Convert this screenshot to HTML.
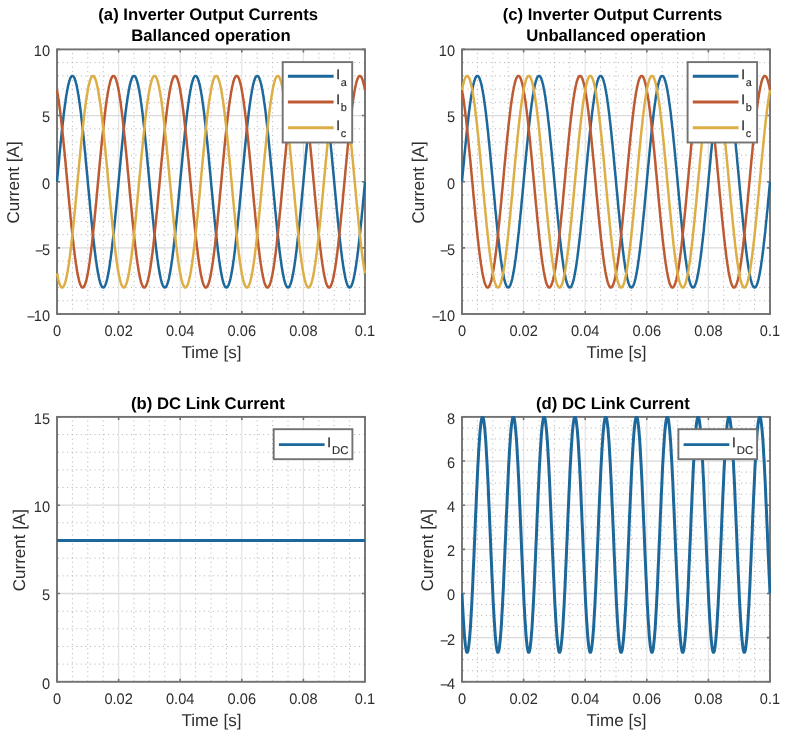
<!DOCTYPE html>
<html><head><meta charset="utf-8"><title>Inverter currents</title>
<style>html,body{margin:0;padding:0;background:#fff;} svg{display:block;font-family:"Liberation Sans",Arial,Helvetica,sans-serif;text-rendering:geometricPrecision;}</style>
</head><body>
<svg width="786" height="738" viewBox="0 0 786 738">
<rect x="0" y="0" width="786" height="738" fill="#fff"/>
<defs>
<clipPath id="cpa"><rect x="56" y="48.6" width="310" height="266.20000000000005"/></clipPath>
<clipPath id="cpc"><rect x="461" y="48.6" width="310" height="266.20000000000005"/></clipPath>
<clipPath id="cpb"><rect x="56" y="416.09999999999997" width="310" height="266.5"/></clipPath>
<clipPath id="cpd"><rect x="461" y="416.09999999999997" width="310" height="266.5"/></clipPath>
<filter id="soft" filterUnits="userSpaceOnUse" x="0" y="0" width="786" height="738"><feGaussianBlur stdDeviation="0.4"/></filter>
</defs>
<g filter="url(#soft)">
<g id="axa"><path d="M72.40 49.40V314.00M87.80 49.40V314.00M103.20 49.40V314.00M134.00 49.40V314.00M149.40 49.40V314.00M164.80 49.40V314.00M195.60 49.40V314.00M211.00 49.40V314.00M226.40 49.40V314.00M257.20 49.40V314.00M272.60 49.40V314.00M288.00 49.40V314.00M318.80 49.40V314.00M334.20 49.40V314.00M349.60 49.40V314.00" stroke="#b0b0b0" stroke-width="1.0" stroke-dasharray="1 3.56" stroke-dashoffset="1.01" fill="none"/>
<path d="M57.00 300.77H365.00M57.00 287.54H365.00M57.00 274.31H365.00M57.00 261.08H365.00M57.00 234.62H365.00M57.00 221.39H365.00M57.00 208.16H365.00M57.00 194.93H365.00M57.00 168.47H365.00M57.00 155.24H365.00M57.00 142.01H365.00M57.00 128.78H365.00M57.00 102.32H365.00M57.00 89.09H365.00M57.00 75.86H365.00M57.00 62.63H365.00" stroke="#b0b0b0" stroke-width="1.0" stroke-dasharray="1 3.56" stroke-dashoffset="3.56" fill="none"/>
<path d="M118.60 49.40V314.00M180.20 49.40V314.00M241.80 49.40V314.00M303.40 49.40V314.00" stroke="#e4e4e4" stroke-width="1.3" fill="none"/>
<path d="M57.00 247.85H365.00M57.00 181.70H365.00M57.00 115.55H365.00" stroke="#dadada" stroke-width="1.3" fill="none"/>
<path d="M57.00 314.00v-3.0M57.00 49.40v3.0M118.60 314.00v-3.0M118.60 49.40v3.0M180.20 314.00v-3.0M180.20 49.40v3.0M241.80 314.00v-3.0M241.80 49.40v3.0M303.40 314.00v-3.0M303.40 49.40v3.0M365.00 314.00v-3.0M365.00 49.40v3.0M57.00 314.00h3.0M365.00 314.00h-3.0M57.00 247.85h3.0M365.00 247.85h-3.0M57.00 181.70h3.0M365.00 181.70h-3.0M57.00 115.55h3.0M365.00 115.55h-3.0M57.00 49.40h3.0M365.00 49.40h-3.0" stroke="#727272" stroke-width="1.6" fill="none"/>
<rect x="57" y="49.4" width="308" height="264.6" fill="none" stroke="#727272" stroke-width="1.9"/>
<polyline clip-path="url(#cpa)" points="57.0,181.7 57.4,177.0 57.9,172.2 58.3,167.5 58.8,162.8 59.2,158.1 59.6,153.5 60.1,149.0 60.5,144.5 61.0,140.1 61.4,135.8 61.8,131.5 62.3,127.4 62.7,123.4 63.2,119.5 63.6,115.7 64.0,112.1 64.5,108.6 64.9,105.2 65.4,102.0 65.8,99.0 66.2,96.1 66.7,93.4 67.1,90.8 67.6,88.5 68.0,86.3 68.4,84.4 68.9,82.6 69.3,81.0 69.8,79.7 70.2,78.5 70.6,77.6 71.1,76.8 71.5,76.3 72.0,76.0 72.4,75.9 72.8,76.0 73.3,76.3 73.7,76.8 74.2,77.6 74.6,78.5 75.0,79.7 75.5,81.0 75.9,82.6 76.4,84.4 76.8,86.3 77.2,88.5 77.7,90.8 78.1,93.4 78.6,96.1 79.0,99.0 79.4,102.0 79.9,105.2 80.3,108.6 80.8,112.1 81.2,115.7 81.6,119.5 82.1,123.4 82.5,127.4 83.0,131.5 83.4,135.8 83.8,140.1 84.3,144.5 84.7,149.0 85.2,153.5 85.6,158.1 86.0,162.8 86.5,167.5 86.9,172.2 87.4,177.0 87.8,181.7 88.2,186.4 88.7,191.2 89.1,195.9 89.6,200.6 90.0,205.3 90.4,209.9 90.9,214.4 91.3,218.9 91.8,223.3 92.2,227.6 92.6,231.9 93.1,236.0 93.5,240.0 94.0,243.9 94.4,247.7 94.8,251.3 95.3,254.8 95.7,258.2 96.2,261.4 96.6,264.4 97.0,267.3 97.5,270.0 97.9,272.6 98.4,274.9 98.8,277.1 99.2,279.0 99.7,280.8 100.1,282.4 100.6,283.7 101.0,284.9 101.4,285.8 101.9,286.6 102.3,287.1 102.8,287.4 103.2,287.5 103.6,287.4 104.1,287.1 104.5,286.6 105.0,285.8 105.4,284.9 105.8,283.7 106.3,282.4 106.7,280.8 107.2,279.0 107.6,277.1 108.0,274.9 108.5,272.6 108.9,270.0 109.4,267.3 109.8,264.4 110.2,261.4 110.7,258.2 111.1,254.8 111.6,251.3 112.0,247.7 112.4,243.9 112.9,240.0 113.3,236.0 113.8,231.9 114.2,227.6 114.6,223.3 115.1,218.9 115.5,214.4 116.0,209.9 116.4,205.3 116.8,200.6 117.3,195.9 117.7,191.2 118.2,186.4 118.6,181.7 119.0,177.0 119.5,172.2 119.9,167.5 120.4,162.8 120.8,158.1 121.2,153.5 121.7,149.0 122.1,144.5 122.6,140.1 123.0,135.8 123.4,131.5 123.9,127.4 124.3,123.4 124.8,119.5 125.2,115.7 125.6,112.1 126.1,108.6 126.5,105.2 127.0,102.0 127.4,99.0 127.8,96.1 128.3,93.4 128.7,90.8 129.2,88.5 129.6,86.3 130.0,84.4 130.5,82.6 130.9,81.0 131.4,79.7 131.8,78.5 132.2,77.6 132.7,76.8 133.1,76.3 133.6,76.0 134.0,75.9 134.4,76.0 134.9,76.3 135.3,76.8 135.8,77.6 136.2,78.5 136.6,79.7 137.1,81.0 137.5,82.6 138.0,84.4 138.4,86.3 138.8,88.5 139.3,90.8 139.7,93.4 140.2,96.1 140.6,99.0 141.0,102.0 141.5,105.2 141.9,108.6 142.4,112.1 142.8,115.7 143.2,119.5 143.7,123.4 144.1,127.4 144.6,131.5 145.0,135.8 145.4,140.1 145.9,144.5 146.3,149.0 146.8,153.5 147.2,158.1 147.6,162.8 148.1,167.5 148.5,172.2 149.0,177.0 149.4,181.7 149.8,186.4 150.3,191.2 150.7,195.9 151.2,200.6 151.6,205.3 152.0,209.9 152.5,214.4 152.9,218.9 153.4,223.3 153.8,227.6 154.2,231.9 154.7,236.0 155.1,240.0 155.6,243.9 156.0,247.7 156.4,251.3 156.9,254.8 157.3,258.2 157.8,261.4 158.2,264.4 158.6,267.3 159.1,270.0 159.5,272.6 160.0,274.9 160.4,277.1 160.8,279.0 161.3,280.8 161.7,282.4 162.2,283.7 162.6,284.9 163.0,285.8 163.5,286.6 163.9,287.1 164.4,287.4 164.8,287.5 165.2,287.4 165.7,287.1 166.1,286.6 166.6,285.8 167.0,284.9 167.4,283.7 167.9,282.4 168.3,280.8 168.8,279.0 169.2,277.1 169.6,274.9 170.1,272.6 170.5,270.0 171.0,267.3 171.4,264.4 171.8,261.4 172.3,258.2 172.7,254.8 173.2,251.3 173.6,247.7 174.0,243.9 174.5,240.0 174.9,236.0 175.4,231.9 175.8,227.6 176.2,223.3 176.7,218.9 177.1,214.4 177.6,209.9 178.0,205.3 178.4,200.6 178.9,195.9 179.3,191.2 179.8,186.4 180.2,181.7 180.6,177.0 181.1,172.2 181.5,167.5 182.0,162.8 182.4,158.1 182.8,153.5 183.3,149.0 183.7,144.5 184.2,140.1 184.6,135.8 185.0,131.5 185.5,127.4 185.9,123.4 186.4,119.5 186.8,115.7 187.2,112.1 187.7,108.6 188.1,105.2 188.6,102.0 189.0,99.0 189.4,96.1 189.9,93.4 190.3,90.8 190.8,88.5 191.2,86.3 191.6,84.4 192.1,82.6 192.5,81.0 193.0,79.7 193.4,78.5 193.8,77.6 194.3,76.8 194.7,76.3 195.2,76.0 195.6,75.9 196.0,76.0 196.5,76.3 196.9,76.8 197.4,77.6 197.8,78.5 198.2,79.7 198.7,81.0 199.1,82.6 199.6,84.4 200.0,86.3 200.4,88.5 200.9,90.8 201.3,93.4 201.8,96.1 202.2,99.0 202.6,102.0 203.1,105.2 203.5,108.6 204.0,112.1 204.4,115.7 204.8,119.5 205.3,123.4 205.7,127.4 206.2,131.5 206.6,135.8 207.0,140.1 207.5,144.5 207.9,149.0 208.4,153.5 208.8,158.1 209.2,162.8 209.7,167.5 210.1,172.2 210.6,177.0 211.0,181.7 211.4,186.4 211.9,191.2 212.3,195.9 212.8,200.6 213.2,205.3 213.6,209.9 214.1,214.4 214.5,218.9 215.0,223.3 215.4,227.6 215.8,231.9 216.3,236.0 216.7,240.0 217.2,243.9 217.6,247.7 218.0,251.3 218.5,254.8 218.9,258.2 219.4,261.4 219.8,264.4 220.2,267.3 220.7,270.0 221.1,272.6 221.6,274.9 222.0,277.1 222.4,279.0 222.9,280.8 223.3,282.4 223.8,283.7 224.2,284.9 224.6,285.8 225.1,286.6 225.5,287.1 226.0,287.4 226.4,287.5 226.8,287.4 227.3,287.1 227.7,286.6 228.2,285.8 228.6,284.9 229.0,283.7 229.5,282.4 229.9,280.8 230.4,279.0 230.8,277.1 231.2,274.9 231.7,272.6 232.1,270.0 232.6,267.3 233.0,264.4 233.4,261.4 233.9,258.2 234.3,254.8 234.8,251.3 235.2,247.7 235.6,243.9 236.1,240.0 236.5,236.0 237.0,231.9 237.4,227.6 237.8,223.3 238.3,218.9 238.7,214.4 239.2,209.9 239.6,205.3 240.0,200.6 240.5,195.9 240.9,191.2 241.4,186.4 241.8,181.7 242.2,177.0 242.7,172.2 243.1,167.5 243.6,162.8 244.0,158.1 244.4,153.5 244.9,149.0 245.3,144.5 245.8,140.1 246.2,135.8 246.6,131.5 247.1,127.4 247.5,123.4 248.0,119.5 248.4,115.7 248.8,112.1 249.3,108.6 249.7,105.2 250.2,102.0 250.6,99.0 251.0,96.1 251.5,93.4 251.9,90.8 252.4,88.5 252.8,86.3 253.2,84.4 253.7,82.6 254.1,81.0 254.6,79.7 255.0,78.5 255.4,77.6 255.9,76.8 256.3,76.3 256.8,76.0 257.2,75.9 257.6,76.0 258.1,76.3 258.5,76.8 259.0,77.6 259.4,78.5 259.8,79.7 260.3,81.0 260.7,82.6 261.2,84.4 261.6,86.3 262.0,88.5 262.5,90.8 262.9,93.4 263.4,96.1 263.8,99.0 264.2,102.0 264.7,105.2 265.1,108.6 265.6,112.1 266.0,115.7 266.4,119.5 266.9,123.4 267.3,127.4 267.8,131.5 268.2,135.8 268.6,140.1 269.1,144.5 269.5,149.0 270.0,153.5 270.4,158.1 270.8,162.8 271.3,167.5 271.7,172.2 272.2,177.0 272.6,181.7 273.0,186.4 273.5,191.2 273.9,195.9 274.4,200.6 274.8,205.3 275.2,209.9 275.7,214.4 276.1,218.9 276.6,223.3 277.0,227.6 277.4,231.9 277.9,236.0 278.3,240.0 278.8,243.9 279.2,247.7 279.6,251.3 280.1,254.8 280.5,258.2 281.0,261.4 281.4,264.4 281.8,267.3 282.3,270.0 282.7,272.6 283.2,274.9 283.6,277.1 284.0,279.0 284.5,280.8 284.9,282.4 285.4,283.7 285.8,284.9 286.2,285.8 286.7,286.6 287.1,287.1 287.6,287.4 288.0,287.5 288.4,287.4 288.9,287.1 289.3,286.6 289.8,285.8 290.2,284.9 290.6,283.7 291.1,282.4 291.5,280.8 292.0,279.0 292.4,277.1 292.8,274.9 293.3,272.6 293.7,270.0 294.2,267.3 294.6,264.4 295.0,261.4 295.5,258.2 295.9,254.8 296.4,251.3 296.8,247.7 297.2,243.9 297.7,240.0 298.1,236.0 298.6,231.9 299.0,227.6 299.4,223.3 299.9,218.9 300.3,214.4 300.8,209.9 301.2,205.3 301.6,200.6 302.1,195.9 302.5,191.2 303.0,186.4 303.4,181.7 303.8,177.0 304.3,172.2 304.7,167.5 305.2,162.8 305.6,158.1 306.0,153.5 306.5,149.0 306.9,144.5 307.4,140.1 307.8,135.8 308.2,131.5 308.7,127.4 309.1,123.4 309.6,119.5 310.0,115.7 310.4,112.1 310.9,108.6 311.3,105.2 311.8,102.0 312.2,99.0 312.6,96.1 313.1,93.4 313.5,90.8 314.0,88.5 314.4,86.3 314.8,84.4 315.3,82.6 315.7,81.0 316.2,79.7 316.6,78.5 317.0,77.6 317.5,76.8 317.9,76.3 318.4,76.0 318.8,75.9 319.2,76.0 319.7,76.3 320.1,76.8 320.6,77.6 321.0,78.5 321.4,79.7 321.9,81.0 322.3,82.6 322.8,84.4 323.2,86.3 323.6,88.5 324.1,90.8 324.5,93.4 325.0,96.1 325.4,99.0 325.8,102.0 326.3,105.2 326.7,108.6 327.2,112.1 327.6,115.7 328.0,119.5 328.5,123.4 328.9,127.4 329.4,131.5 329.8,135.8 330.2,140.1 330.7,144.5 331.1,149.0 331.6,153.5 332.0,158.1 332.4,162.8 332.9,167.5 333.3,172.2 333.8,177.0 334.2,181.7 334.6,186.4 335.1,191.2 335.5,195.9 336.0,200.6 336.4,205.3 336.8,209.9 337.3,214.4 337.7,218.9 338.2,223.3 338.6,227.6 339.0,231.9 339.5,236.0 339.9,240.0 340.4,243.9 340.8,247.7 341.2,251.3 341.7,254.8 342.1,258.2 342.6,261.4 343.0,264.4 343.4,267.3 343.9,270.0 344.3,272.6 344.8,274.9 345.2,277.1 345.6,279.0 346.1,280.8 346.5,282.4 347.0,283.7 347.4,284.9 347.8,285.8 348.3,286.6 348.7,287.1 349.2,287.4 349.6,287.5 350.0,287.4 350.5,287.1 350.9,286.6 351.4,285.8 351.8,284.9 352.2,283.7 352.7,282.4 353.1,280.8 353.6,279.0 354.0,277.1 354.4,274.9 354.9,272.6 355.3,270.0 355.8,267.3 356.2,264.4 356.6,261.4 357.1,258.2 357.5,254.8 358.0,251.3 358.4,247.7 358.8,243.9 359.3,240.0 359.7,236.0 360.2,231.9 360.6,227.6 361.0,223.3 361.5,218.9 361.9,214.4 362.4,209.9 362.8,205.3 363.2,200.6 363.7,195.9 364.1,191.2 364.6,186.4 365.0,181.7" fill="none" stroke="#1f679b" stroke-width="2.5" stroke-linejoin="round"/>
<polyline clip-path="url(#cpa)" points="57.0,90.0 57.4,92.5 57.9,95.2 58.3,98.0 58.8,101.0 59.2,104.1 59.6,107.4 60.1,110.9 60.5,114.5 61.0,118.2 61.4,122.1 61.8,126.1 62.3,130.2 62.7,134.4 63.2,138.7 63.6,143.0 64.0,147.5 64.5,152.0 64.9,156.6 65.4,161.2 65.8,165.9 66.2,170.6 66.7,175.4 67.1,180.1 67.6,184.9 68.0,189.6 68.4,194.3 68.9,199.0 69.3,203.7 69.8,208.3 70.2,212.9 70.6,217.4 71.1,221.8 71.5,226.2 72.0,230.5 72.4,234.6 72.8,238.7 73.3,242.6 73.7,246.4 74.2,250.1 74.6,253.7 75.0,257.1 75.5,260.4 75.9,263.5 76.4,266.4 76.8,269.1 77.2,271.7 77.7,274.1 78.1,276.4 78.6,278.4 79.0,280.2 79.4,281.9 79.9,283.3 80.3,284.5 80.8,285.5 81.2,286.4 81.6,287.0 82.1,287.4 82.5,287.5 83.0,287.5 83.4,287.2 83.8,286.8 84.3,286.1 84.7,285.2 85.2,284.1 85.6,282.8 86.0,281.3 86.5,279.6 86.9,277.7 87.4,275.6 87.8,273.4 88.2,270.9 88.7,268.2 89.1,265.4 89.6,262.4 90.0,259.3 90.4,256.0 90.9,252.5 91.3,248.9 91.8,245.2 92.2,241.3 92.6,237.3 93.1,233.2 93.5,229.0 94.0,224.7 94.4,220.4 94.8,215.9 95.3,211.4 95.7,206.8 96.2,202.2 96.6,197.5 97.0,192.8 97.5,188.0 97.9,183.3 98.4,178.5 98.8,173.8 99.2,169.1 99.7,164.4 100.1,159.7 100.6,155.1 101.0,150.5 101.4,146.0 101.9,141.6 102.3,137.2 102.8,132.9 103.2,128.8 103.6,124.7 104.1,120.8 104.5,117.0 105.0,113.3 105.4,109.7 105.8,106.3 106.3,103.0 106.7,99.9 107.2,97.0 107.6,94.3 108.0,91.7 108.5,89.3 108.9,87.0 109.4,85.0 109.8,83.2 110.2,81.5 110.7,80.1 111.1,78.9 111.6,77.9 112.0,77.0 112.4,76.4 112.9,76.0 113.3,75.9 113.8,75.9 114.2,76.2 114.6,76.6 115.1,77.3 115.5,78.2 116.0,79.3 116.4,80.6 116.8,82.1 117.3,83.8 117.7,85.7 118.2,87.8 118.6,90.0 119.0,92.5 119.5,95.2 119.9,98.0 120.4,101.0 120.8,104.1 121.2,107.4 121.7,110.9 122.1,114.5 122.6,118.2 123.0,122.1 123.4,126.1 123.9,130.2 124.3,134.4 124.8,138.7 125.2,143.0 125.6,147.5 126.1,152.0 126.5,156.6 127.0,161.2 127.4,165.9 127.8,170.6 128.3,175.4 128.7,180.1 129.2,184.9 129.6,189.6 130.0,194.3 130.5,199.0 130.9,203.7 131.4,208.3 131.8,212.9 132.2,217.4 132.7,221.8 133.1,226.2 133.6,230.5 134.0,234.6 134.4,238.7 134.9,242.6 135.3,246.4 135.8,250.1 136.2,253.7 136.6,257.1 137.1,260.4 137.5,263.5 138.0,266.4 138.4,269.1 138.8,271.7 139.3,274.1 139.7,276.4 140.2,278.4 140.6,280.2 141.0,281.9 141.5,283.3 141.9,284.5 142.4,285.5 142.8,286.4 143.2,287.0 143.7,287.4 144.1,287.5 144.6,287.5 145.0,287.2 145.4,286.8 145.9,286.1 146.3,285.2 146.8,284.1 147.2,282.8 147.6,281.3 148.1,279.6 148.5,277.7 149.0,275.6 149.4,273.4 149.8,270.9 150.3,268.2 150.7,265.4 151.2,262.4 151.6,259.3 152.0,256.0 152.5,252.5 152.9,248.9 153.4,245.2 153.8,241.3 154.2,237.3 154.7,233.2 155.1,229.0 155.6,224.7 156.0,220.4 156.4,215.9 156.9,211.4 157.3,206.8 157.8,202.2 158.2,197.5 158.6,192.8 159.1,188.0 159.5,183.3 160.0,178.5 160.4,173.8 160.8,169.1 161.3,164.4 161.7,159.7 162.2,155.1 162.6,150.5 163.0,146.0 163.5,141.6 163.9,137.2 164.4,132.9 164.8,128.8 165.2,124.7 165.7,120.8 166.1,117.0 166.6,113.3 167.0,109.7 167.4,106.3 167.9,103.0 168.3,99.9 168.8,97.0 169.2,94.3 169.6,91.7 170.1,89.3 170.5,87.0 171.0,85.0 171.4,83.2 171.8,81.5 172.3,80.1 172.7,78.9 173.2,77.9 173.6,77.0 174.0,76.4 174.5,76.0 174.9,75.9 175.4,75.9 175.8,76.2 176.2,76.6 176.7,77.3 177.1,78.2 177.6,79.3 178.0,80.6 178.4,82.1 178.9,83.8 179.3,85.7 179.8,87.8 180.2,90.0 180.6,92.5 181.1,95.2 181.5,98.0 182.0,101.0 182.4,104.1 182.8,107.4 183.3,110.9 183.7,114.5 184.2,118.2 184.6,122.1 185.0,126.1 185.5,130.2 185.9,134.4 186.4,138.7 186.8,143.0 187.2,147.5 187.7,152.0 188.1,156.6 188.6,161.2 189.0,165.9 189.4,170.6 189.9,175.4 190.3,180.1 190.8,184.9 191.2,189.6 191.6,194.3 192.1,199.0 192.5,203.7 193.0,208.3 193.4,212.9 193.8,217.4 194.3,221.8 194.7,226.2 195.2,230.5 195.6,234.6 196.0,238.7 196.5,242.6 196.9,246.4 197.4,250.1 197.8,253.7 198.2,257.1 198.7,260.4 199.1,263.5 199.6,266.4 200.0,269.1 200.4,271.7 200.9,274.1 201.3,276.4 201.8,278.4 202.2,280.2 202.6,281.9 203.1,283.3 203.5,284.5 204.0,285.5 204.4,286.4 204.8,287.0 205.3,287.4 205.7,287.5 206.2,287.5 206.6,287.2 207.0,286.8 207.5,286.1 207.9,285.2 208.4,284.1 208.8,282.8 209.2,281.3 209.7,279.6 210.1,277.7 210.6,275.6 211.0,273.4 211.4,270.9 211.9,268.2 212.3,265.4 212.8,262.4 213.2,259.3 213.6,256.0 214.1,252.5 214.5,248.9 215.0,245.2 215.4,241.3 215.8,237.3 216.3,233.2 216.7,229.0 217.2,224.7 217.6,220.4 218.0,215.9 218.5,211.4 218.9,206.8 219.4,202.2 219.8,197.5 220.2,192.8 220.7,188.0 221.1,183.3 221.6,178.5 222.0,173.8 222.4,169.1 222.9,164.4 223.3,159.7 223.8,155.1 224.2,150.5 224.6,146.0 225.1,141.6 225.5,137.2 226.0,132.9 226.4,128.8 226.8,124.7 227.3,120.8 227.7,117.0 228.2,113.3 228.6,109.7 229.0,106.3 229.5,103.0 229.9,99.9 230.4,97.0 230.8,94.3 231.2,91.7 231.7,89.3 232.1,87.0 232.6,85.0 233.0,83.2 233.4,81.5 233.9,80.1 234.3,78.9 234.8,77.9 235.2,77.0 235.6,76.4 236.1,76.0 236.5,75.9 237.0,75.9 237.4,76.2 237.8,76.6 238.3,77.3 238.7,78.2 239.2,79.3 239.6,80.6 240.0,82.1 240.5,83.8 240.9,85.7 241.4,87.8 241.8,90.0 242.2,92.5 242.7,95.2 243.1,98.0 243.6,101.0 244.0,104.1 244.4,107.4 244.9,110.9 245.3,114.5 245.8,118.2 246.2,122.1 246.6,126.1 247.1,130.2 247.5,134.4 248.0,138.7 248.4,143.0 248.8,147.5 249.3,152.0 249.7,156.6 250.2,161.2 250.6,165.9 251.0,170.6 251.5,175.4 251.9,180.1 252.4,184.9 252.8,189.6 253.2,194.3 253.7,199.0 254.1,203.7 254.6,208.3 255.0,212.9 255.4,217.4 255.9,221.8 256.3,226.2 256.8,230.5 257.2,234.6 257.6,238.7 258.1,242.6 258.5,246.4 259.0,250.1 259.4,253.7 259.8,257.1 260.3,260.4 260.7,263.5 261.2,266.4 261.6,269.1 262.0,271.7 262.5,274.1 262.9,276.4 263.4,278.4 263.8,280.2 264.2,281.9 264.7,283.3 265.1,284.5 265.6,285.5 266.0,286.4 266.4,287.0 266.9,287.4 267.3,287.5 267.8,287.5 268.2,287.2 268.6,286.8 269.1,286.1 269.5,285.2 270.0,284.1 270.4,282.8 270.8,281.3 271.3,279.6 271.7,277.7 272.2,275.6 272.6,273.4 273.0,270.9 273.5,268.2 273.9,265.4 274.4,262.4 274.8,259.3 275.2,256.0 275.7,252.5 276.1,248.9 276.6,245.2 277.0,241.3 277.4,237.3 277.9,233.2 278.3,229.0 278.8,224.7 279.2,220.4 279.6,215.9 280.1,211.4 280.5,206.8 281.0,202.2 281.4,197.5 281.8,192.8 282.3,188.0 282.7,183.3 283.2,178.5 283.6,173.8 284.0,169.1 284.5,164.4 284.9,159.7 285.4,155.1 285.8,150.5 286.2,146.0 286.7,141.6 287.1,137.2 287.6,132.9 288.0,128.8 288.4,124.7 288.9,120.8 289.3,117.0 289.8,113.3 290.2,109.7 290.6,106.3 291.1,103.0 291.5,99.9 292.0,97.0 292.4,94.3 292.8,91.7 293.3,89.3 293.7,87.0 294.2,85.0 294.6,83.2 295.0,81.5 295.5,80.1 295.9,78.9 296.4,77.9 296.8,77.0 297.2,76.4 297.7,76.0 298.1,75.9 298.6,75.9 299.0,76.2 299.4,76.6 299.9,77.3 300.3,78.2 300.8,79.3 301.2,80.6 301.6,82.1 302.1,83.8 302.5,85.7 303.0,87.8 303.4,90.0 303.8,92.5 304.3,95.2 304.7,98.0 305.2,101.0 305.6,104.1 306.0,107.4 306.5,110.9 306.9,114.5 307.4,118.2 307.8,122.1 308.2,126.1 308.7,130.2 309.1,134.4 309.6,138.7 310.0,143.0 310.4,147.5 310.9,152.0 311.3,156.6 311.8,161.2 312.2,165.9 312.6,170.6 313.1,175.4 313.5,180.1 314.0,184.9 314.4,189.6 314.8,194.3 315.3,199.0 315.7,203.7 316.2,208.3 316.6,212.9 317.0,217.4 317.5,221.8 317.9,226.2 318.4,230.5 318.8,234.6 319.2,238.7 319.7,242.6 320.1,246.4 320.6,250.1 321.0,253.7 321.4,257.1 321.9,260.4 322.3,263.5 322.8,266.4 323.2,269.1 323.6,271.7 324.1,274.1 324.5,276.4 325.0,278.4 325.4,280.2 325.8,281.9 326.3,283.3 326.7,284.5 327.2,285.5 327.6,286.4 328.0,287.0 328.5,287.4 328.9,287.5 329.4,287.5 329.8,287.2 330.2,286.8 330.7,286.1 331.1,285.2 331.6,284.1 332.0,282.8 332.4,281.3 332.9,279.6 333.3,277.7 333.8,275.6 334.2,273.4 334.6,270.9 335.1,268.2 335.5,265.4 336.0,262.4 336.4,259.3 336.8,256.0 337.3,252.5 337.7,248.9 338.2,245.2 338.6,241.3 339.0,237.3 339.5,233.2 339.9,229.0 340.4,224.7 340.8,220.4 341.2,215.9 341.7,211.4 342.1,206.8 342.6,202.2 343.0,197.5 343.4,192.8 343.9,188.0 344.3,183.3 344.8,178.5 345.2,173.8 345.6,169.1 346.1,164.4 346.5,159.7 347.0,155.1 347.4,150.5 347.8,146.0 348.3,141.6 348.7,137.2 349.2,132.9 349.6,128.8 350.0,124.7 350.5,120.8 350.9,117.0 351.4,113.3 351.8,109.7 352.2,106.3 352.7,103.0 353.1,99.9 353.6,97.0 354.0,94.3 354.4,91.7 354.9,89.3 355.3,87.0 355.8,85.0 356.2,83.2 356.6,81.5 357.1,80.1 357.5,78.9 358.0,77.9 358.4,77.0 358.8,76.4 359.3,76.0 359.7,75.9 360.2,75.9 360.6,76.2 361.0,76.6 361.5,77.3 361.9,78.2 362.4,79.3 362.8,80.6 363.2,82.1 363.7,83.8 364.1,85.7 364.6,87.8 365.0,90.0" fill="none" stroke="#bd5a32" stroke-width="2.5" stroke-linejoin="round"/>
<polyline clip-path="url(#cpa)" points="57.0,273.4 57.4,275.6 57.9,277.7 58.3,279.6 58.8,281.3 59.2,282.8 59.6,284.1 60.1,285.2 60.5,286.1 61.0,286.8 61.4,287.2 61.8,287.5 62.3,287.5 62.7,287.4 63.2,287.0 63.6,286.4 64.0,285.5 64.5,284.5 64.9,283.3 65.4,281.9 65.8,280.2 66.2,278.4 66.7,276.4 67.1,274.1 67.6,271.7 68.0,269.1 68.4,266.4 68.9,263.5 69.3,260.4 69.8,257.1 70.2,253.7 70.6,250.1 71.1,246.4 71.5,242.6 72.0,238.7 72.4,234.6 72.8,230.5 73.3,226.2 73.7,221.8 74.2,217.4 74.6,212.9 75.0,208.3 75.5,203.7 75.9,199.0 76.4,194.3 76.8,189.6 77.2,184.9 77.7,180.1 78.1,175.4 78.6,170.6 79.0,165.9 79.4,161.2 79.9,156.6 80.3,152.0 80.8,147.5 81.2,143.0 81.6,138.7 82.1,134.4 82.5,130.2 83.0,126.1 83.4,122.1 83.8,118.2 84.3,114.5 84.7,110.9 85.2,107.4 85.6,104.1 86.0,101.0 86.5,98.0 86.9,95.2 87.4,92.5 87.8,90.0 88.2,87.8 88.7,85.7 89.1,83.8 89.6,82.1 90.0,80.6 90.4,79.3 90.9,78.2 91.3,77.3 91.8,76.6 92.2,76.2 92.6,75.9 93.1,75.9 93.5,76.0 94.0,76.4 94.4,77.0 94.8,77.9 95.3,78.9 95.7,80.1 96.2,81.5 96.6,83.2 97.0,85.0 97.5,87.0 97.9,89.3 98.4,91.7 98.8,94.3 99.2,97.0 99.7,99.9 100.1,103.0 100.6,106.3 101.0,109.7 101.4,113.3 101.9,117.0 102.3,120.8 102.8,124.7 103.2,128.8 103.6,132.9 104.1,137.2 104.5,141.6 105.0,146.0 105.4,150.5 105.8,155.1 106.3,159.7 106.7,164.4 107.2,169.1 107.6,173.8 108.0,178.5 108.5,183.3 108.9,188.0 109.4,192.8 109.8,197.5 110.2,202.2 110.7,206.8 111.1,211.4 111.6,215.9 112.0,220.4 112.4,224.7 112.9,229.0 113.3,233.2 113.8,237.3 114.2,241.3 114.6,245.2 115.1,248.9 115.5,252.5 116.0,256.0 116.4,259.3 116.8,262.4 117.3,265.4 117.7,268.2 118.2,270.9 118.6,273.4 119.0,275.6 119.5,277.7 119.9,279.6 120.4,281.3 120.8,282.8 121.2,284.1 121.7,285.2 122.1,286.1 122.6,286.8 123.0,287.2 123.4,287.5 123.9,287.5 124.3,287.4 124.8,287.0 125.2,286.4 125.6,285.5 126.1,284.5 126.5,283.3 127.0,281.9 127.4,280.2 127.8,278.4 128.3,276.4 128.7,274.1 129.2,271.7 129.6,269.1 130.0,266.4 130.5,263.5 130.9,260.4 131.4,257.1 131.8,253.7 132.2,250.1 132.7,246.4 133.1,242.6 133.6,238.7 134.0,234.6 134.4,230.5 134.9,226.2 135.3,221.8 135.8,217.4 136.2,212.9 136.6,208.3 137.1,203.7 137.5,199.0 138.0,194.3 138.4,189.6 138.8,184.9 139.3,180.1 139.7,175.4 140.2,170.6 140.6,165.9 141.0,161.2 141.5,156.6 141.9,152.0 142.4,147.5 142.8,143.0 143.2,138.7 143.7,134.4 144.1,130.2 144.6,126.1 145.0,122.1 145.4,118.2 145.9,114.5 146.3,110.9 146.8,107.4 147.2,104.1 147.6,101.0 148.1,98.0 148.5,95.2 149.0,92.5 149.4,90.0 149.8,87.8 150.3,85.7 150.7,83.8 151.2,82.1 151.6,80.6 152.0,79.3 152.5,78.2 152.9,77.3 153.4,76.6 153.8,76.2 154.2,75.9 154.7,75.9 155.1,76.0 155.6,76.4 156.0,77.0 156.4,77.9 156.9,78.9 157.3,80.1 157.8,81.5 158.2,83.2 158.6,85.0 159.1,87.0 159.5,89.3 160.0,91.7 160.4,94.3 160.8,97.0 161.3,99.9 161.7,103.0 162.2,106.3 162.6,109.7 163.0,113.3 163.5,117.0 163.9,120.8 164.4,124.7 164.8,128.8 165.2,132.9 165.7,137.2 166.1,141.6 166.6,146.0 167.0,150.5 167.4,155.1 167.9,159.7 168.3,164.4 168.8,169.1 169.2,173.8 169.6,178.5 170.1,183.3 170.5,188.0 171.0,192.8 171.4,197.5 171.8,202.2 172.3,206.8 172.7,211.4 173.2,215.9 173.6,220.4 174.0,224.7 174.5,229.0 174.9,233.2 175.4,237.3 175.8,241.3 176.2,245.2 176.7,248.9 177.1,252.5 177.6,256.0 178.0,259.3 178.4,262.4 178.9,265.4 179.3,268.2 179.8,270.9 180.2,273.4 180.6,275.6 181.1,277.7 181.5,279.6 182.0,281.3 182.4,282.8 182.8,284.1 183.3,285.2 183.7,286.1 184.2,286.8 184.6,287.2 185.0,287.5 185.5,287.5 185.9,287.4 186.4,287.0 186.8,286.4 187.2,285.5 187.7,284.5 188.1,283.3 188.6,281.9 189.0,280.2 189.4,278.4 189.9,276.4 190.3,274.1 190.8,271.7 191.2,269.1 191.6,266.4 192.1,263.5 192.5,260.4 193.0,257.1 193.4,253.7 193.8,250.1 194.3,246.4 194.7,242.6 195.2,238.7 195.6,234.6 196.0,230.5 196.5,226.2 196.9,221.8 197.4,217.4 197.8,212.9 198.2,208.3 198.7,203.7 199.1,199.0 199.6,194.3 200.0,189.6 200.4,184.9 200.9,180.1 201.3,175.4 201.8,170.6 202.2,165.9 202.6,161.2 203.1,156.6 203.5,152.0 204.0,147.5 204.4,143.0 204.8,138.7 205.3,134.4 205.7,130.2 206.2,126.1 206.6,122.1 207.0,118.2 207.5,114.5 207.9,110.9 208.4,107.4 208.8,104.1 209.2,101.0 209.7,98.0 210.1,95.2 210.6,92.5 211.0,90.0 211.4,87.8 211.9,85.7 212.3,83.8 212.8,82.1 213.2,80.6 213.6,79.3 214.1,78.2 214.5,77.3 215.0,76.6 215.4,76.2 215.8,75.9 216.3,75.9 216.7,76.0 217.2,76.4 217.6,77.0 218.0,77.9 218.5,78.9 218.9,80.1 219.4,81.5 219.8,83.2 220.2,85.0 220.7,87.0 221.1,89.3 221.6,91.7 222.0,94.3 222.4,97.0 222.9,99.9 223.3,103.0 223.8,106.3 224.2,109.7 224.6,113.3 225.1,117.0 225.5,120.8 226.0,124.7 226.4,128.8 226.8,132.9 227.3,137.2 227.7,141.6 228.2,146.0 228.6,150.5 229.0,155.1 229.5,159.7 229.9,164.4 230.4,169.1 230.8,173.8 231.2,178.5 231.7,183.3 232.1,188.0 232.6,192.8 233.0,197.5 233.4,202.2 233.9,206.8 234.3,211.4 234.8,215.9 235.2,220.4 235.6,224.7 236.1,229.0 236.5,233.2 237.0,237.3 237.4,241.3 237.8,245.2 238.3,248.9 238.7,252.5 239.2,256.0 239.6,259.3 240.0,262.4 240.5,265.4 240.9,268.2 241.4,270.9 241.8,273.4 242.2,275.6 242.7,277.7 243.1,279.6 243.6,281.3 244.0,282.8 244.4,284.1 244.9,285.2 245.3,286.1 245.8,286.8 246.2,287.2 246.6,287.5 247.1,287.5 247.5,287.4 248.0,287.0 248.4,286.4 248.8,285.5 249.3,284.5 249.7,283.3 250.2,281.9 250.6,280.2 251.0,278.4 251.5,276.4 251.9,274.1 252.4,271.7 252.8,269.1 253.2,266.4 253.7,263.5 254.1,260.4 254.6,257.1 255.0,253.7 255.4,250.1 255.9,246.4 256.3,242.6 256.8,238.7 257.2,234.6 257.6,230.5 258.1,226.2 258.5,221.8 259.0,217.4 259.4,212.9 259.8,208.3 260.3,203.7 260.7,199.0 261.2,194.3 261.6,189.6 262.0,184.9 262.5,180.1 262.9,175.4 263.4,170.6 263.8,165.9 264.2,161.2 264.7,156.6 265.1,152.0 265.6,147.5 266.0,143.0 266.4,138.7 266.9,134.4 267.3,130.2 267.8,126.1 268.2,122.1 268.6,118.2 269.1,114.5 269.5,110.9 270.0,107.4 270.4,104.1 270.8,101.0 271.3,98.0 271.7,95.2 272.2,92.5 272.6,90.0 273.0,87.8 273.5,85.7 273.9,83.8 274.4,82.1 274.8,80.6 275.2,79.3 275.7,78.2 276.1,77.3 276.6,76.6 277.0,76.2 277.4,75.9 277.9,75.9 278.3,76.0 278.8,76.4 279.2,77.0 279.6,77.9 280.1,78.9 280.5,80.1 281.0,81.5 281.4,83.2 281.8,85.0 282.3,87.0 282.7,89.3 283.2,91.7 283.6,94.3 284.0,97.0 284.5,99.9 284.9,103.0 285.4,106.3 285.8,109.7 286.2,113.3 286.7,117.0 287.1,120.8 287.6,124.7 288.0,128.8 288.4,132.9 288.9,137.2 289.3,141.6 289.8,146.0 290.2,150.5 290.6,155.1 291.1,159.7 291.5,164.4 292.0,169.1 292.4,173.8 292.8,178.5 293.3,183.3 293.7,188.0 294.2,192.8 294.6,197.5 295.0,202.2 295.5,206.8 295.9,211.4 296.4,215.9 296.8,220.4 297.2,224.7 297.7,229.0 298.1,233.2 298.6,237.3 299.0,241.3 299.4,245.2 299.9,248.9 300.3,252.5 300.8,256.0 301.2,259.3 301.6,262.4 302.1,265.4 302.5,268.2 303.0,270.9 303.4,273.4 303.8,275.6 304.3,277.7 304.7,279.6 305.2,281.3 305.6,282.8 306.0,284.1 306.5,285.2 306.9,286.1 307.4,286.8 307.8,287.2 308.2,287.5 308.7,287.5 309.1,287.4 309.6,287.0 310.0,286.4 310.4,285.5 310.9,284.5 311.3,283.3 311.8,281.9 312.2,280.2 312.6,278.4 313.1,276.4 313.5,274.1 314.0,271.7 314.4,269.1 314.8,266.4 315.3,263.5 315.7,260.4 316.2,257.1 316.6,253.7 317.0,250.1 317.5,246.4 317.9,242.6 318.4,238.7 318.8,234.6 319.2,230.5 319.7,226.2 320.1,221.8 320.6,217.4 321.0,212.9 321.4,208.3 321.9,203.7 322.3,199.0 322.8,194.3 323.2,189.6 323.6,184.9 324.1,180.1 324.5,175.4 325.0,170.6 325.4,165.9 325.8,161.2 326.3,156.6 326.7,152.0 327.2,147.5 327.6,143.0 328.0,138.7 328.5,134.4 328.9,130.2 329.4,126.1 329.8,122.1 330.2,118.2 330.7,114.5 331.1,110.9 331.6,107.4 332.0,104.1 332.4,101.0 332.9,98.0 333.3,95.2 333.8,92.5 334.2,90.0 334.6,87.8 335.1,85.7 335.5,83.8 336.0,82.1 336.4,80.6 336.8,79.3 337.3,78.2 337.7,77.3 338.2,76.6 338.6,76.2 339.0,75.9 339.5,75.9 339.9,76.0 340.4,76.4 340.8,77.0 341.2,77.9 341.7,78.9 342.1,80.1 342.6,81.5 343.0,83.2 343.4,85.0 343.9,87.0 344.3,89.3 344.8,91.7 345.2,94.3 345.6,97.0 346.1,99.9 346.5,103.0 347.0,106.3 347.4,109.7 347.8,113.3 348.3,117.0 348.7,120.8 349.2,124.7 349.6,128.8 350.0,132.9 350.5,137.2 350.9,141.6 351.4,146.0 351.8,150.5 352.2,155.1 352.7,159.7 353.1,164.4 353.6,169.1 354.0,173.8 354.4,178.5 354.9,183.3 355.3,188.0 355.8,192.8 356.2,197.5 356.6,202.2 357.1,206.8 357.5,211.4 358.0,215.9 358.4,220.4 358.8,224.7 359.3,229.0 359.7,233.2 360.2,237.3 360.6,241.3 361.0,245.2 361.5,248.9 361.9,252.5 362.4,256.0 362.8,259.3 363.2,262.4 363.7,265.4 364.1,268.2 364.6,270.9 365.0,273.4" fill="none" stroke="#dcae45" stroke-width="2.5" stroke-linejoin="round"/>
<text transform="translate(57.00,335.80) scale(1,1.05)" text-anchor="middle" font-size="14.6" fill="#2e2e2e">0</text>
<text transform="translate(118.60,335.80) scale(1,1.05)" text-anchor="middle" font-size="14.6" fill="#2e2e2e">0.02</text>
<text transform="translate(180.20,335.80) scale(1,1.05)" text-anchor="middle" font-size="14.6" fill="#2e2e2e">0.04</text>
<text transform="translate(241.80,335.80) scale(1,1.05)" text-anchor="middle" font-size="14.6" fill="#2e2e2e">0.06</text>
<text transform="translate(303.40,335.80) scale(1,1.05)" text-anchor="middle" font-size="14.6" fill="#2e2e2e">0.08</text>
<text transform="translate(365.00,335.80) scale(1,1.05)" text-anchor="middle" font-size="14.6" fill="#2e2e2e">0.1</text>
<text transform="translate(50.10,320.90) scale(1,1.05)" text-anchor="end" font-size="14.6" fill="#2e2e2e"><tspan dy="1.2">−</tspan><tspan dx="-1.5" dy="-1.2">10</tspan></text>
<text transform="translate(50.10,254.75) scale(1,1.05)" text-anchor="end" font-size="14.6" fill="#2e2e2e"><tspan dy="1.2">−</tspan><tspan dx="-1.5" dy="-1.2">5</tspan></text>
<text transform="translate(50.10,188.60) scale(1,1.05)" text-anchor="end" font-size="14.6" fill="#2e2e2e">0</text>
<text transform="translate(50.10,122.45) scale(1,1.05)" text-anchor="end" font-size="14.6" fill="#2e2e2e">5</text>
<text transform="translate(50.10,56.30) scale(1,1.05)" text-anchor="end" font-size="14.6" fill="#2e2e2e">10</text>
<text x="211.50" y="358.20" text-anchor="middle" font-size="17.0" fill="#2e2e2e">Time [s]</text>
<text transform="translate(19.00,182.50) rotate(-90)" text-anchor="middle" font-size="17.0" fill="#2e2e2e">Current [A]</text>
<text x="208.20" y="19.90" text-anchor="middle" font-size="16.7" font-weight="bold" fill="#000">(a) Inverter Output Currents</text>
<text x="211.00" y="41.40" text-anchor="middle" font-size="16.7" font-weight="bold" fill="#000">Ballanced operation</text>
<rect x="282.7" y="62.1" width="69.50" height="80.40" fill="#fff" stroke="#727272" stroke-width="1.9"/>
<path d="M287.90 76.30H333.60" stroke="#1f679b" stroke-width="2.9"/>
<text x="336.30" y="78.60" font-size="13.5" fill="#2e2e2e" stroke="#2e2e2e" stroke-width="0.35">I<tspan dx="0.7" dy="7.1" font-size="10.9" stroke-width="0.15">a</tspan></text>
<path d="M287.90 102.00H333.60" stroke="#bd5a32" stroke-width="2.9"/>
<text x="336.30" y="104.30" font-size="13.5" fill="#2e2e2e" stroke="#2e2e2e" stroke-width="0.35">I<tspan dx="0.7" dy="7.1" font-size="10.9" stroke-width="0.15">b</tspan></text>
<path d="M287.90 127.70H333.60" stroke="#dcae45" stroke-width="2.9"/>
<text x="336.30" y="130.00" font-size="13.5" fill="#2e2e2e" stroke="#2e2e2e" stroke-width="0.35">I<tspan dx="0.7" dy="7.1" font-size="10.9" stroke-width="0.15">c</tspan></text></g>
<g id="axc"><path d="M477.40 49.40V314.00M492.80 49.40V314.00M508.20 49.40V314.00M539.00 49.40V314.00M554.40 49.40V314.00M569.80 49.40V314.00M600.60 49.40V314.00M616.00 49.40V314.00M631.40 49.40V314.00M662.20 49.40V314.00M677.60 49.40V314.00M693.00 49.40V314.00M723.80 49.40V314.00M739.20 49.40V314.00M754.60 49.40V314.00" stroke="#b0b0b0" stroke-width="1.0" stroke-dasharray="1 3.56" stroke-dashoffset="1.01" fill="none"/>
<path d="M462.00 300.77H770.00M462.00 287.54H770.00M462.00 274.31H770.00M462.00 261.08H770.00M462.00 234.62H770.00M462.00 221.39H770.00M462.00 208.16H770.00M462.00 194.93H770.00M462.00 168.47H770.00M462.00 155.24H770.00M462.00 142.01H770.00M462.00 128.78H770.00M462.00 102.32H770.00M462.00 89.09H770.00M462.00 75.86H770.00M462.00 62.63H770.00" stroke="#b0b0b0" stroke-width="1.0" stroke-dasharray="1 3.56" stroke-dashoffset="3.56" fill="none"/>
<path d="M523.60 49.40V314.00M585.20 49.40V314.00M646.80 49.40V314.00M708.40 49.40V314.00" stroke="#e4e4e4" stroke-width="1.3" fill="none"/>
<path d="M462.00 247.85H770.00M462.00 181.70H770.00M462.00 115.55H770.00" stroke="#dadada" stroke-width="1.3" fill="none"/>
<path d="M462.00 314.00v-3.0M462.00 49.40v3.0M523.60 314.00v-3.0M523.60 49.40v3.0M585.20 314.00v-3.0M585.20 49.40v3.0M646.80 314.00v-3.0M646.80 49.40v3.0M708.40 314.00v-3.0M708.40 49.40v3.0M770.00 314.00v-3.0M770.00 49.40v3.0M462.00 314.00h3.0M770.00 314.00h-3.0M462.00 247.85h3.0M770.00 247.85h-3.0M462.00 181.70h3.0M770.00 181.70h-3.0M462.00 115.55h3.0M770.00 115.55h-3.0M462.00 49.40h3.0M770.00 49.40h-3.0" stroke="#727272" stroke-width="1.6" fill="none"/>
<rect x="462" y="49.4" width="308" height="264.6" fill="none" stroke="#727272" stroke-width="1.9"/>
<polyline clip-path="url(#cpc)" points="462.0,181.7 462.4,177.0 462.9,172.2 463.3,167.5 463.8,162.8 464.2,158.1 464.6,153.5 465.1,149.0 465.5,144.5 466.0,140.1 466.4,135.8 466.8,131.5 467.3,127.4 467.7,123.4 468.2,119.5 468.6,115.7 469.0,112.1 469.5,108.6 469.9,105.2 470.4,102.0 470.8,99.0 471.2,96.1 471.7,93.4 472.1,90.8 472.6,88.5 473.0,86.3 473.4,84.4 473.9,82.6 474.3,81.0 474.8,79.7 475.2,78.5 475.6,77.6 476.1,76.8 476.5,76.3 477.0,76.0 477.4,75.9 477.8,76.0 478.3,76.3 478.7,76.8 479.2,77.6 479.6,78.5 480.0,79.7 480.5,81.0 480.9,82.6 481.4,84.4 481.8,86.3 482.2,88.5 482.7,90.8 483.1,93.4 483.6,96.1 484.0,99.0 484.4,102.0 484.9,105.2 485.3,108.6 485.8,112.1 486.2,115.7 486.6,119.5 487.1,123.4 487.5,127.4 488.0,131.5 488.4,135.8 488.8,140.1 489.3,144.5 489.7,149.0 490.2,153.5 490.6,158.1 491.0,162.8 491.5,167.5 491.9,172.2 492.4,177.0 492.8,181.7 493.2,186.4 493.7,191.2 494.1,195.9 494.6,200.6 495.0,205.3 495.4,209.9 495.9,214.4 496.3,218.9 496.8,223.3 497.2,227.6 497.6,231.9 498.1,236.0 498.5,240.0 499.0,243.9 499.4,247.7 499.8,251.3 500.3,254.8 500.7,258.2 501.2,261.4 501.6,264.4 502.0,267.3 502.5,270.0 502.9,272.6 503.4,274.9 503.8,277.1 504.2,279.0 504.7,280.8 505.1,282.4 505.6,283.7 506.0,284.9 506.4,285.8 506.9,286.6 507.3,287.1 507.8,287.4 508.2,287.5 508.6,287.4 509.1,287.1 509.5,286.6 510.0,285.8 510.4,284.9 510.8,283.7 511.3,282.4 511.7,280.8 512.2,279.0 512.6,277.1 513.0,274.9 513.5,272.6 513.9,270.0 514.4,267.3 514.8,264.4 515.2,261.4 515.7,258.2 516.1,254.8 516.6,251.3 517.0,247.7 517.4,243.9 517.9,240.0 518.3,236.0 518.8,231.9 519.2,227.6 519.6,223.3 520.1,218.9 520.5,214.4 521.0,209.9 521.4,205.3 521.8,200.6 522.3,195.9 522.7,191.2 523.2,186.4 523.6,181.7 524.0,177.0 524.5,172.2 524.9,167.5 525.4,162.8 525.8,158.1 526.2,153.5 526.7,149.0 527.1,144.5 527.6,140.1 528.0,135.8 528.4,131.5 528.9,127.4 529.3,123.4 529.8,119.5 530.2,115.7 530.6,112.1 531.1,108.6 531.5,105.2 532.0,102.0 532.4,99.0 532.8,96.1 533.3,93.4 533.7,90.8 534.2,88.5 534.6,86.3 535.0,84.4 535.5,82.6 535.9,81.0 536.4,79.7 536.8,78.5 537.2,77.6 537.7,76.8 538.1,76.3 538.6,76.0 539.0,75.9 539.4,76.0 539.9,76.3 540.3,76.8 540.8,77.6 541.2,78.5 541.6,79.7 542.1,81.0 542.5,82.6 543.0,84.4 543.4,86.3 543.8,88.5 544.3,90.8 544.7,93.4 545.2,96.1 545.6,99.0 546.0,102.0 546.5,105.2 546.9,108.6 547.4,112.1 547.8,115.7 548.2,119.5 548.7,123.4 549.1,127.4 549.6,131.5 550.0,135.8 550.4,140.1 550.9,144.5 551.3,149.0 551.8,153.5 552.2,158.1 552.6,162.8 553.1,167.5 553.5,172.2 554.0,177.0 554.4,181.7 554.8,186.4 555.3,191.2 555.7,195.9 556.2,200.6 556.6,205.3 557.0,209.9 557.5,214.4 557.9,218.9 558.4,223.3 558.8,227.6 559.2,231.9 559.7,236.0 560.1,240.0 560.6,243.9 561.0,247.7 561.4,251.3 561.9,254.8 562.3,258.2 562.8,261.4 563.2,264.4 563.6,267.3 564.1,270.0 564.5,272.6 565.0,274.9 565.4,277.1 565.8,279.0 566.3,280.8 566.7,282.4 567.2,283.7 567.6,284.9 568.0,285.8 568.5,286.6 568.9,287.1 569.4,287.4 569.8,287.5 570.2,287.4 570.7,287.1 571.1,286.6 571.6,285.8 572.0,284.9 572.4,283.7 572.9,282.4 573.3,280.8 573.8,279.0 574.2,277.1 574.6,274.9 575.1,272.6 575.5,270.0 576.0,267.3 576.4,264.4 576.8,261.4 577.3,258.2 577.7,254.8 578.2,251.3 578.6,247.7 579.0,243.9 579.5,240.0 579.9,236.0 580.4,231.9 580.8,227.6 581.2,223.3 581.7,218.9 582.1,214.4 582.6,209.9 583.0,205.3 583.4,200.6 583.9,195.9 584.3,191.2 584.8,186.4 585.2,181.7 585.6,177.0 586.1,172.2 586.5,167.5 587.0,162.8 587.4,158.1 587.8,153.5 588.3,149.0 588.7,144.5 589.2,140.1 589.6,135.8 590.0,131.5 590.5,127.4 590.9,123.4 591.4,119.5 591.8,115.7 592.2,112.1 592.7,108.6 593.1,105.2 593.6,102.0 594.0,99.0 594.4,96.1 594.9,93.4 595.3,90.8 595.8,88.5 596.2,86.3 596.6,84.4 597.1,82.6 597.5,81.0 598.0,79.7 598.4,78.5 598.8,77.6 599.3,76.8 599.7,76.3 600.2,76.0 600.6,75.9 601.0,76.0 601.5,76.3 601.9,76.8 602.4,77.6 602.8,78.5 603.2,79.7 603.7,81.0 604.1,82.6 604.6,84.4 605.0,86.3 605.4,88.5 605.9,90.8 606.3,93.4 606.8,96.1 607.2,99.0 607.6,102.0 608.1,105.2 608.5,108.6 609.0,112.1 609.4,115.7 609.8,119.5 610.3,123.4 610.7,127.4 611.2,131.5 611.6,135.8 612.0,140.1 612.5,144.5 612.9,149.0 613.4,153.5 613.8,158.1 614.2,162.8 614.7,167.5 615.1,172.2 615.6,177.0 616.0,181.7 616.4,186.4 616.9,191.2 617.3,195.9 617.8,200.6 618.2,205.3 618.6,209.9 619.1,214.4 619.5,218.9 620.0,223.3 620.4,227.6 620.8,231.9 621.3,236.0 621.7,240.0 622.2,243.9 622.6,247.7 623.0,251.3 623.5,254.8 623.9,258.2 624.4,261.4 624.8,264.4 625.2,267.3 625.7,270.0 626.1,272.6 626.6,274.9 627.0,277.1 627.4,279.0 627.9,280.8 628.3,282.4 628.8,283.7 629.2,284.9 629.6,285.8 630.1,286.6 630.5,287.1 631.0,287.4 631.4,287.5 631.8,287.4 632.3,287.1 632.7,286.6 633.2,285.8 633.6,284.9 634.0,283.7 634.5,282.4 634.9,280.8 635.4,279.0 635.8,277.1 636.2,274.9 636.7,272.6 637.1,270.0 637.6,267.3 638.0,264.4 638.4,261.4 638.9,258.2 639.3,254.8 639.8,251.3 640.2,247.7 640.6,243.9 641.1,240.0 641.5,236.0 642.0,231.9 642.4,227.6 642.8,223.3 643.3,218.9 643.7,214.4 644.2,209.9 644.6,205.3 645.0,200.6 645.5,195.9 645.9,191.2 646.4,186.4 646.8,181.7 647.2,177.0 647.7,172.2 648.1,167.5 648.6,162.8 649.0,158.1 649.4,153.5 649.9,149.0 650.3,144.5 650.8,140.1 651.2,135.8 651.6,131.5 652.1,127.4 652.5,123.4 653.0,119.5 653.4,115.7 653.8,112.1 654.3,108.6 654.7,105.2 655.2,102.0 655.6,99.0 656.0,96.1 656.5,93.4 656.9,90.8 657.4,88.5 657.8,86.3 658.2,84.4 658.7,82.6 659.1,81.0 659.6,79.7 660.0,78.5 660.4,77.6 660.9,76.8 661.3,76.3 661.8,76.0 662.2,75.9 662.6,76.0 663.1,76.3 663.5,76.8 664.0,77.6 664.4,78.5 664.8,79.7 665.3,81.0 665.7,82.6 666.2,84.4 666.6,86.3 667.0,88.5 667.5,90.8 667.9,93.4 668.4,96.1 668.8,99.0 669.2,102.0 669.7,105.2 670.1,108.6 670.6,112.1 671.0,115.7 671.4,119.5 671.9,123.4 672.3,127.4 672.8,131.5 673.2,135.8 673.6,140.1 674.1,144.5 674.5,149.0 675.0,153.5 675.4,158.1 675.8,162.8 676.3,167.5 676.7,172.2 677.2,177.0 677.6,181.7 678.0,186.4 678.5,191.2 678.9,195.9 679.4,200.6 679.8,205.3 680.2,209.9 680.7,214.4 681.1,218.9 681.6,223.3 682.0,227.6 682.4,231.9 682.9,236.0 683.3,240.0 683.8,243.9 684.2,247.7 684.6,251.3 685.1,254.8 685.5,258.2 686.0,261.4 686.4,264.4 686.8,267.3 687.3,270.0 687.7,272.6 688.2,274.9 688.6,277.1 689.0,279.0 689.5,280.8 689.9,282.4 690.4,283.7 690.8,284.9 691.2,285.8 691.7,286.6 692.1,287.1 692.6,287.4 693.0,287.5 693.4,287.4 693.9,287.1 694.3,286.6 694.8,285.8 695.2,284.9 695.6,283.7 696.1,282.4 696.5,280.8 697.0,279.0 697.4,277.1 697.8,274.9 698.3,272.6 698.7,270.0 699.2,267.3 699.6,264.4 700.0,261.4 700.5,258.2 700.9,254.8 701.4,251.3 701.8,247.7 702.2,243.9 702.7,240.0 703.1,236.0 703.6,231.9 704.0,227.6 704.4,223.3 704.9,218.9 705.3,214.4 705.8,209.9 706.2,205.3 706.6,200.6 707.1,195.9 707.5,191.2 708.0,186.4 708.4,181.7 708.8,177.0 709.3,172.2 709.7,167.5 710.2,162.8 710.6,158.1 711.0,153.5 711.5,149.0 711.9,144.5 712.4,140.1 712.8,135.8 713.2,131.5 713.7,127.4 714.1,123.4 714.6,119.5 715.0,115.7 715.4,112.1 715.9,108.6 716.3,105.2 716.8,102.0 717.2,99.0 717.6,96.1 718.1,93.4 718.5,90.8 719.0,88.5 719.4,86.3 719.8,84.4 720.3,82.6 720.7,81.0 721.2,79.7 721.6,78.5 722.0,77.6 722.5,76.8 722.9,76.3 723.4,76.0 723.8,75.9 724.2,76.0 724.7,76.3 725.1,76.8 725.6,77.6 726.0,78.5 726.4,79.7 726.9,81.0 727.3,82.6 727.8,84.4 728.2,86.3 728.6,88.5 729.1,90.8 729.5,93.4 730.0,96.1 730.4,99.0 730.8,102.0 731.3,105.2 731.7,108.6 732.2,112.1 732.6,115.7 733.0,119.5 733.5,123.4 733.9,127.4 734.4,131.5 734.8,135.8 735.2,140.1 735.7,144.5 736.1,149.0 736.6,153.5 737.0,158.1 737.4,162.8 737.9,167.5 738.3,172.2 738.8,177.0 739.2,181.7 739.6,186.4 740.1,191.2 740.5,195.9 741.0,200.6 741.4,205.3 741.8,209.9 742.3,214.4 742.7,218.9 743.2,223.3 743.6,227.6 744.0,231.9 744.5,236.0 744.9,240.0 745.4,243.9 745.8,247.7 746.2,251.3 746.7,254.8 747.1,258.2 747.6,261.4 748.0,264.4 748.4,267.3 748.9,270.0 749.3,272.6 749.8,274.9 750.2,277.1 750.6,279.0 751.1,280.8 751.5,282.4 752.0,283.7 752.4,284.9 752.8,285.8 753.3,286.6 753.7,287.1 754.2,287.4 754.6,287.5 755.0,287.4 755.5,287.1 755.9,286.6 756.4,285.8 756.8,284.9 757.2,283.7 757.7,282.4 758.1,280.8 758.6,279.0 759.0,277.1 759.4,274.9 759.9,272.6 760.3,270.0 760.8,267.3 761.2,264.4 761.6,261.4 762.1,258.2 762.5,254.8 763.0,251.3 763.4,247.7 763.8,243.9 764.3,240.0 764.7,236.0 765.2,231.9 765.6,227.6 766.0,223.3 766.5,218.9 766.9,214.4 767.4,209.9 767.8,205.3 768.2,200.6 768.7,195.9 769.1,191.2 769.6,186.4 770.0,181.7" fill="none" stroke="#1f679b" stroke-width="2.5" stroke-linejoin="round"/>
<polyline clip-path="url(#cpc)" points="462.0,90.0 462.4,92.5 462.9,95.2 463.3,98.0 463.8,101.0 464.2,104.1 464.6,107.4 465.1,110.9 465.5,114.5 466.0,118.2 466.4,122.1 466.8,126.1 467.3,130.2 467.7,134.4 468.2,138.7 468.6,143.0 469.0,147.5 469.5,152.0 469.9,156.6 470.4,161.2 470.8,165.9 471.2,170.6 471.7,175.4 472.1,180.1 472.6,184.9 473.0,189.6 473.4,194.3 473.9,199.0 474.3,203.7 474.8,208.3 475.2,212.9 475.6,217.4 476.1,221.8 476.5,226.2 477.0,230.5 477.4,234.6 477.8,238.7 478.3,242.6 478.7,246.4 479.2,250.1 479.6,253.7 480.0,257.1 480.5,260.4 480.9,263.5 481.4,266.4 481.8,269.1 482.2,271.7 482.7,274.1 483.1,276.4 483.6,278.4 484.0,280.2 484.4,281.9 484.9,283.3 485.3,284.5 485.8,285.5 486.2,286.4 486.6,287.0 487.1,287.4 487.5,287.5 488.0,287.5 488.4,287.2 488.8,286.8 489.3,286.1 489.7,285.2 490.2,284.1 490.6,282.8 491.0,281.3 491.5,279.6 491.9,277.7 492.4,275.6 492.8,273.4 493.2,270.9 493.7,268.2 494.1,265.4 494.6,262.4 495.0,259.3 495.4,256.0 495.9,252.5 496.3,248.9 496.8,245.2 497.2,241.3 497.6,237.3 498.1,233.2 498.5,229.0 499.0,224.7 499.4,220.4 499.8,215.9 500.3,211.4 500.7,206.8 501.2,202.2 501.6,197.5 502.0,192.8 502.5,188.0 502.9,183.3 503.4,178.5 503.8,173.8 504.2,169.1 504.7,164.4 505.1,159.7 505.6,155.1 506.0,150.5 506.4,146.0 506.9,141.6 507.3,137.2 507.8,132.9 508.2,128.8 508.6,124.7 509.1,120.8 509.5,117.0 510.0,113.3 510.4,109.7 510.8,106.3 511.3,103.0 511.7,99.9 512.2,97.0 512.6,94.3 513.0,91.7 513.5,89.3 513.9,87.0 514.4,85.0 514.8,83.2 515.2,81.5 515.7,80.1 516.1,78.9 516.6,77.9 517.0,77.0 517.4,76.4 517.9,76.0 518.3,75.9 518.8,75.9 519.2,76.2 519.6,76.6 520.1,77.3 520.5,78.2 521.0,79.3 521.4,80.6 521.8,82.1 522.3,83.8 522.7,85.7 523.2,87.8 523.6,90.0 524.0,92.5 524.5,95.2 524.9,98.0 525.4,101.0 525.8,104.1 526.2,107.4 526.7,110.9 527.1,114.5 527.6,118.2 528.0,122.1 528.4,126.1 528.9,130.2 529.3,134.4 529.8,138.7 530.2,143.0 530.6,147.5 531.1,152.0 531.5,156.6 532.0,161.2 532.4,165.9 532.8,170.6 533.3,175.4 533.7,180.1 534.2,184.9 534.6,189.6 535.0,194.3 535.5,199.0 535.9,203.7 536.4,208.3 536.8,212.9 537.2,217.4 537.7,221.8 538.1,226.2 538.6,230.5 539.0,234.6 539.4,238.7 539.9,242.6 540.3,246.4 540.8,250.1 541.2,253.7 541.6,257.1 542.1,260.4 542.5,263.5 543.0,266.4 543.4,269.1 543.8,271.7 544.3,274.1 544.7,276.4 545.2,278.4 545.6,280.2 546.0,281.9 546.5,283.3 546.9,284.5 547.4,285.5 547.8,286.4 548.2,287.0 548.7,287.4 549.1,287.5 549.6,287.5 550.0,287.2 550.4,286.8 550.9,286.1 551.3,285.2 551.8,284.1 552.2,282.8 552.6,281.3 553.1,279.6 553.5,277.7 554.0,275.6 554.4,273.4 554.8,270.9 555.3,268.2 555.7,265.4 556.2,262.4 556.6,259.3 557.0,256.0 557.5,252.5 557.9,248.9 558.4,245.2 558.8,241.3 559.2,237.3 559.7,233.2 560.1,229.0 560.6,224.7 561.0,220.4 561.4,215.9 561.9,211.4 562.3,206.8 562.8,202.2 563.2,197.5 563.6,192.8 564.1,188.0 564.5,183.3 565.0,178.5 565.4,173.8 565.8,169.1 566.3,164.4 566.7,159.7 567.2,155.1 567.6,150.5 568.0,146.0 568.5,141.6 568.9,137.2 569.4,132.9 569.8,128.8 570.2,124.7 570.7,120.8 571.1,117.0 571.6,113.3 572.0,109.7 572.4,106.3 572.9,103.0 573.3,99.9 573.8,97.0 574.2,94.3 574.6,91.7 575.1,89.3 575.5,87.0 576.0,85.0 576.4,83.2 576.8,81.5 577.3,80.1 577.7,78.9 578.2,77.9 578.6,77.0 579.0,76.4 579.5,76.0 579.9,75.9 580.4,75.9 580.8,76.2 581.2,76.6 581.7,77.3 582.1,78.2 582.6,79.3 583.0,80.6 583.4,82.1 583.9,83.8 584.3,85.7 584.8,87.8 585.2,90.0 585.6,92.5 586.1,95.2 586.5,98.0 587.0,101.0 587.4,104.1 587.8,107.4 588.3,110.9 588.7,114.5 589.2,118.2 589.6,122.1 590.0,126.1 590.5,130.2 590.9,134.4 591.4,138.7 591.8,143.0 592.2,147.5 592.7,152.0 593.1,156.6 593.6,161.2 594.0,165.9 594.4,170.6 594.9,175.4 595.3,180.1 595.8,184.9 596.2,189.6 596.6,194.3 597.1,199.0 597.5,203.7 598.0,208.3 598.4,212.9 598.8,217.4 599.3,221.8 599.7,226.2 600.2,230.5 600.6,234.6 601.0,238.7 601.5,242.6 601.9,246.4 602.4,250.1 602.8,253.7 603.2,257.1 603.7,260.4 604.1,263.5 604.6,266.4 605.0,269.1 605.4,271.7 605.9,274.1 606.3,276.4 606.8,278.4 607.2,280.2 607.6,281.9 608.1,283.3 608.5,284.5 609.0,285.5 609.4,286.4 609.8,287.0 610.3,287.4 610.7,287.5 611.2,287.5 611.6,287.2 612.0,286.8 612.5,286.1 612.9,285.2 613.4,284.1 613.8,282.8 614.2,281.3 614.7,279.6 615.1,277.7 615.6,275.6 616.0,273.4 616.4,270.9 616.9,268.2 617.3,265.4 617.8,262.4 618.2,259.3 618.6,256.0 619.1,252.5 619.5,248.9 620.0,245.2 620.4,241.3 620.8,237.3 621.3,233.2 621.7,229.0 622.2,224.7 622.6,220.4 623.0,215.9 623.5,211.4 623.9,206.8 624.4,202.2 624.8,197.5 625.2,192.8 625.7,188.0 626.1,183.3 626.6,178.5 627.0,173.8 627.4,169.1 627.9,164.4 628.3,159.7 628.8,155.1 629.2,150.5 629.6,146.0 630.1,141.6 630.5,137.2 631.0,132.9 631.4,128.8 631.8,124.7 632.3,120.8 632.7,117.0 633.2,113.3 633.6,109.7 634.0,106.3 634.5,103.0 634.9,99.9 635.4,97.0 635.8,94.3 636.2,91.7 636.7,89.3 637.1,87.0 637.6,85.0 638.0,83.2 638.4,81.5 638.9,80.1 639.3,78.9 639.8,77.9 640.2,77.0 640.6,76.4 641.1,76.0 641.5,75.9 642.0,75.9 642.4,76.2 642.8,76.6 643.3,77.3 643.7,78.2 644.2,79.3 644.6,80.6 645.0,82.1 645.5,83.8 645.9,85.7 646.4,87.8 646.8,90.0 647.2,92.5 647.7,95.2 648.1,98.0 648.6,101.0 649.0,104.1 649.4,107.4 649.9,110.9 650.3,114.5 650.8,118.2 651.2,122.1 651.6,126.1 652.1,130.2 652.5,134.4 653.0,138.7 653.4,143.0 653.8,147.5 654.3,152.0 654.7,156.6 655.2,161.2 655.6,165.9 656.0,170.6 656.5,175.4 656.9,180.1 657.4,184.9 657.8,189.6 658.2,194.3 658.7,199.0 659.1,203.7 659.6,208.3 660.0,212.9 660.4,217.4 660.9,221.8 661.3,226.2 661.8,230.5 662.2,234.6 662.6,238.7 663.1,242.6 663.5,246.4 664.0,250.1 664.4,253.7 664.8,257.1 665.3,260.4 665.7,263.5 666.2,266.4 666.6,269.1 667.0,271.7 667.5,274.1 667.9,276.4 668.4,278.4 668.8,280.2 669.2,281.9 669.7,283.3 670.1,284.5 670.6,285.5 671.0,286.4 671.4,287.0 671.9,287.4 672.3,287.5 672.8,287.5 673.2,287.2 673.6,286.8 674.1,286.1 674.5,285.2 675.0,284.1 675.4,282.8 675.8,281.3 676.3,279.6 676.7,277.7 677.2,275.6 677.6,273.4 678.0,270.9 678.5,268.2 678.9,265.4 679.4,262.4 679.8,259.3 680.2,256.0 680.7,252.5 681.1,248.9 681.6,245.2 682.0,241.3 682.4,237.3 682.9,233.2 683.3,229.0 683.8,224.7 684.2,220.4 684.6,215.9 685.1,211.4 685.5,206.8 686.0,202.2 686.4,197.5 686.8,192.8 687.3,188.0 687.7,183.3 688.2,178.5 688.6,173.8 689.0,169.1 689.5,164.4 689.9,159.7 690.4,155.1 690.8,150.5 691.2,146.0 691.7,141.6 692.1,137.2 692.6,132.9 693.0,128.8 693.4,124.7 693.9,120.8 694.3,117.0 694.8,113.3 695.2,109.7 695.6,106.3 696.1,103.0 696.5,99.9 697.0,97.0 697.4,94.3 697.8,91.7 698.3,89.3 698.7,87.0 699.2,85.0 699.6,83.2 700.0,81.5 700.5,80.1 700.9,78.9 701.4,77.9 701.8,77.0 702.2,76.4 702.7,76.0 703.1,75.9 703.6,75.9 704.0,76.2 704.4,76.6 704.9,77.3 705.3,78.2 705.8,79.3 706.2,80.6 706.6,82.1 707.1,83.8 707.5,85.7 708.0,87.8 708.4,90.0 708.8,92.5 709.3,95.2 709.7,98.0 710.2,101.0 710.6,104.1 711.0,107.4 711.5,110.9 711.9,114.5 712.4,118.2 712.8,122.1 713.2,126.1 713.7,130.2 714.1,134.4 714.6,138.7 715.0,143.0 715.4,147.5 715.9,152.0 716.3,156.6 716.8,161.2 717.2,165.9 717.6,170.6 718.1,175.4 718.5,180.1 719.0,184.9 719.4,189.6 719.8,194.3 720.3,199.0 720.7,203.7 721.2,208.3 721.6,212.9 722.0,217.4 722.5,221.8 722.9,226.2 723.4,230.5 723.8,234.6 724.2,238.7 724.7,242.6 725.1,246.4 725.6,250.1 726.0,253.7 726.4,257.1 726.9,260.4 727.3,263.5 727.8,266.4 728.2,269.1 728.6,271.7 729.1,274.1 729.5,276.4 730.0,278.4 730.4,280.2 730.8,281.9 731.3,283.3 731.7,284.5 732.2,285.5 732.6,286.4 733.0,287.0 733.5,287.4 733.9,287.5 734.4,287.5 734.8,287.2 735.2,286.8 735.7,286.1 736.1,285.2 736.6,284.1 737.0,282.8 737.4,281.3 737.9,279.6 738.3,277.7 738.8,275.6 739.2,273.4 739.6,270.9 740.1,268.2 740.5,265.4 741.0,262.4 741.4,259.3 741.8,256.0 742.3,252.5 742.7,248.9 743.2,245.2 743.6,241.3 744.0,237.3 744.5,233.2 744.9,229.0 745.4,224.7 745.8,220.4 746.2,215.9 746.7,211.4 747.1,206.8 747.6,202.2 748.0,197.5 748.4,192.8 748.9,188.0 749.3,183.3 749.8,178.5 750.2,173.8 750.6,169.1 751.1,164.4 751.5,159.7 752.0,155.1 752.4,150.5 752.8,146.0 753.3,141.6 753.7,137.2 754.2,132.9 754.6,128.8 755.0,124.7 755.5,120.8 755.9,117.0 756.4,113.3 756.8,109.7 757.2,106.3 757.7,103.0 758.1,99.9 758.6,97.0 759.0,94.3 759.4,91.7 759.9,89.3 760.3,87.0 760.8,85.0 761.2,83.2 761.6,81.5 762.1,80.1 762.5,78.9 763.0,77.9 763.4,77.0 763.8,76.4 764.3,76.0 764.7,75.9 765.2,75.9 765.6,76.2 766.0,76.6 766.5,77.3 766.9,78.2 767.4,79.3 767.8,80.6 768.2,82.1 768.7,83.8 769.1,85.7 769.6,87.8 770.0,90.0" fill="none" stroke="#bd5a32" stroke-width="2.5" stroke-linejoin="round"/>
<polyline clip-path="url(#cpc)" points="462.0,90.0 462.4,87.8 462.9,85.7 463.3,83.8 463.8,82.1 464.2,80.6 464.6,79.3 465.1,78.2 465.5,77.3 466.0,76.6 466.4,76.2 466.8,75.9 467.3,75.9 467.7,76.0 468.2,76.4 468.6,77.0 469.0,77.9 469.5,78.9 469.9,80.1 470.4,81.5 470.8,83.2 471.2,85.0 471.7,87.0 472.1,89.3 472.6,91.7 473.0,94.3 473.4,97.0 473.9,99.9 474.3,103.0 474.8,106.3 475.2,109.7 475.6,113.3 476.1,117.0 476.5,120.8 477.0,124.7 477.4,128.8 477.8,132.9 478.3,137.2 478.7,141.6 479.2,146.0 479.6,150.5 480.0,155.1 480.5,159.7 480.9,164.4 481.4,169.1 481.8,173.8 482.2,178.5 482.7,183.3 483.1,188.0 483.6,192.8 484.0,197.5 484.4,202.2 484.9,206.8 485.3,211.4 485.8,215.9 486.2,220.4 486.6,224.7 487.1,229.0 487.5,233.2 488.0,237.3 488.4,241.3 488.8,245.2 489.3,248.9 489.7,252.5 490.2,256.0 490.6,259.3 491.0,262.4 491.5,265.4 491.9,268.2 492.4,270.9 492.8,273.4 493.2,275.6 493.7,277.7 494.1,279.6 494.6,281.3 495.0,282.8 495.4,284.1 495.9,285.2 496.3,286.1 496.8,286.8 497.2,287.2 497.6,287.5 498.1,287.5 498.5,287.4 499.0,287.0 499.4,286.4 499.8,285.5 500.3,284.5 500.7,283.3 501.2,281.9 501.6,280.2 502.0,278.4 502.5,276.4 502.9,274.1 503.4,271.7 503.8,269.1 504.2,266.4 504.7,263.5 505.1,260.4 505.6,257.1 506.0,253.7 506.4,250.1 506.9,246.4 507.3,242.6 507.8,238.7 508.2,234.6 508.6,230.5 509.1,226.2 509.5,221.8 510.0,217.4 510.4,212.9 510.8,208.3 511.3,203.7 511.7,199.0 512.2,194.3 512.6,189.6 513.0,184.9 513.5,180.1 513.9,175.4 514.4,170.6 514.8,165.9 515.2,161.2 515.7,156.6 516.1,152.0 516.6,147.5 517.0,143.0 517.4,138.7 517.9,134.4 518.3,130.2 518.8,126.1 519.2,122.1 519.6,118.2 520.1,114.5 520.5,110.9 521.0,107.4 521.4,104.1 521.8,101.0 522.3,98.0 522.7,95.2 523.2,92.5 523.6,90.0 524.0,87.8 524.5,85.7 524.9,83.8 525.4,82.1 525.8,80.6 526.2,79.3 526.7,78.2 527.1,77.3 527.6,76.6 528.0,76.2 528.4,75.9 528.9,75.9 529.3,76.0 529.8,76.4 530.2,77.0 530.6,77.9 531.1,78.9 531.5,80.1 532.0,81.5 532.4,83.2 532.8,85.0 533.3,87.0 533.7,89.3 534.2,91.7 534.6,94.3 535.0,97.0 535.5,99.9 535.9,103.0 536.4,106.3 536.8,109.7 537.2,113.3 537.7,117.0 538.1,120.8 538.6,124.7 539.0,128.8 539.4,132.9 539.9,137.2 540.3,141.6 540.8,146.0 541.2,150.5 541.6,155.1 542.1,159.7 542.5,164.4 543.0,169.1 543.4,173.8 543.8,178.5 544.3,183.3 544.7,188.0 545.2,192.8 545.6,197.5 546.0,202.2 546.5,206.8 546.9,211.4 547.4,215.9 547.8,220.4 548.2,224.7 548.7,229.0 549.1,233.2 549.6,237.3 550.0,241.3 550.4,245.2 550.9,248.9 551.3,252.5 551.8,256.0 552.2,259.3 552.6,262.4 553.1,265.4 553.5,268.2 554.0,270.9 554.4,273.4 554.8,275.6 555.3,277.7 555.7,279.6 556.2,281.3 556.6,282.8 557.0,284.1 557.5,285.2 557.9,286.1 558.4,286.8 558.8,287.2 559.2,287.5 559.7,287.5 560.1,287.4 560.6,287.0 561.0,286.4 561.4,285.5 561.9,284.5 562.3,283.3 562.8,281.9 563.2,280.2 563.6,278.4 564.1,276.4 564.5,274.1 565.0,271.7 565.4,269.1 565.8,266.4 566.3,263.5 566.7,260.4 567.2,257.1 567.6,253.7 568.0,250.1 568.5,246.4 568.9,242.6 569.4,238.7 569.8,234.6 570.2,230.5 570.7,226.2 571.1,221.8 571.6,217.4 572.0,212.9 572.4,208.3 572.9,203.7 573.3,199.0 573.8,194.3 574.2,189.6 574.6,184.9 575.1,180.1 575.5,175.4 576.0,170.6 576.4,165.9 576.8,161.2 577.3,156.6 577.7,152.0 578.2,147.5 578.6,143.0 579.0,138.7 579.5,134.4 579.9,130.2 580.4,126.1 580.8,122.1 581.2,118.2 581.7,114.5 582.1,110.9 582.6,107.4 583.0,104.1 583.4,101.0 583.9,98.0 584.3,95.2 584.8,92.5 585.2,90.0 585.6,87.8 586.1,85.7 586.5,83.8 587.0,82.1 587.4,80.6 587.8,79.3 588.3,78.2 588.7,77.3 589.2,76.6 589.6,76.2 590.0,75.9 590.5,75.9 590.9,76.0 591.4,76.4 591.8,77.0 592.2,77.9 592.7,78.9 593.1,80.1 593.6,81.5 594.0,83.2 594.4,85.0 594.9,87.0 595.3,89.3 595.8,91.7 596.2,94.3 596.6,97.0 597.1,99.9 597.5,103.0 598.0,106.3 598.4,109.7 598.8,113.3 599.3,117.0 599.7,120.8 600.2,124.7 600.6,128.8 601.0,132.9 601.5,137.2 601.9,141.6 602.4,146.0 602.8,150.5 603.2,155.1 603.7,159.7 604.1,164.4 604.6,169.1 605.0,173.8 605.4,178.5 605.9,183.3 606.3,188.0 606.8,192.8 607.2,197.5 607.6,202.2 608.1,206.8 608.5,211.4 609.0,215.9 609.4,220.4 609.8,224.7 610.3,229.0 610.7,233.2 611.2,237.3 611.6,241.3 612.0,245.2 612.5,248.9 612.9,252.5 613.4,256.0 613.8,259.3 614.2,262.4 614.7,265.4 615.1,268.2 615.6,270.9 616.0,273.4 616.4,275.6 616.9,277.7 617.3,279.6 617.8,281.3 618.2,282.8 618.6,284.1 619.1,285.2 619.5,286.1 620.0,286.8 620.4,287.2 620.8,287.5 621.3,287.5 621.7,287.4 622.2,287.0 622.6,286.4 623.0,285.5 623.5,284.5 623.9,283.3 624.4,281.9 624.8,280.2 625.2,278.4 625.7,276.4 626.1,274.1 626.6,271.7 627.0,269.1 627.4,266.4 627.9,263.5 628.3,260.4 628.8,257.1 629.2,253.7 629.6,250.1 630.1,246.4 630.5,242.6 631.0,238.7 631.4,234.6 631.8,230.5 632.3,226.2 632.7,221.8 633.2,217.4 633.6,212.9 634.0,208.3 634.5,203.7 634.9,199.0 635.4,194.3 635.8,189.6 636.2,184.9 636.7,180.1 637.1,175.4 637.6,170.6 638.0,165.9 638.4,161.2 638.9,156.6 639.3,152.0 639.8,147.5 640.2,143.0 640.6,138.7 641.1,134.4 641.5,130.2 642.0,126.1 642.4,122.1 642.8,118.2 643.3,114.5 643.7,110.9 644.2,107.4 644.6,104.1 645.0,101.0 645.5,98.0 645.9,95.2 646.4,92.5 646.8,90.0 647.2,87.8 647.7,85.7 648.1,83.8 648.6,82.1 649.0,80.6 649.4,79.3 649.9,78.2 650.3,77.3 650.8,76.6 651.2,76.2 651.6,75.9 652.1,75.9 652.5,76.0 653.0,76.4 653.4,77.0 653.8,77.9 654.3,78.9 654.7,80.1 655.2,81.5 655.6,83.2 656.0,85.0 656.5,87.0 656.9,89.3 657.4,91.7 657.8,94.3 658.2,97.0 658.7,99.9 659.1,103.0 659.6,106.3 660.0,109.7 660.4,113.3 660.9,117.0 661.3,120.8 661.8,124.7 662.2,128.8 662.6,132.9 663.1,137.2 663.5,141.6 664.0,146.0 664.4,150.5 664.8,155.1 665.3,159.7 665.7,164.4 666.2,169.1 666.6,173.8 667.0,178.5 667.5,183.3 667.9,188.0 668.4,192.8 668.8,197.5 669.2,202.2 669.7,206.8 670.1,211.4 670.6,215.9 671.0,220.4 671.4,224.7 671.9,229.0 672.3,233.2 672.8,237.3 673.2,241.3 673.6,245.2 674.1,248.9 674.5,252.5 675.0,256.0 675.4,259.3 675.8,262.4 676.3,265.4 676.7,268.2 677.2,270.9 677.6,273.4 678.0,275.6 678.5,277.7 678.9,279.6 679.4,281.3 679.8,282.8 680.2,284.1 680.7,285.2 681.1,286.1 681.6,286.8 682.0,287.2 682.4,287.5 682.9,287.5 683.3,287.4 683.8,287.0 684.2,286.4 684.6,285.5 685.1,284.5 685.5,283.3 686.0,281.9 686.4,280.2 686.8,278.4 687.3,276.4 687.7,274.1 688.2,271.7 688.6,269.1 689.0,266.4 689.5,263.5 689.9,260.4 690.4,257.1 690.8,253.7 691.2,250.1 691.7,246.4 692.1,242.6 692.6,238.7 693.0,234.6 693.4,230.5 693.9,226.2 694.3,221.8 694.8,217.4 695.2,212.9 695.6,208.3 696.1,203.7 696.5,199.0 697.0,194.3 697.4,189.6 697.8,184.9 698.3,180.1 698.7,175.4 699.2,170.6 699.6,165.9 700.0,161.2 700.5,156.6 700.9,152.0 701.4,147.5 701.8,143.0 702.2,138.7 702.7,134.4 703.1,130.2 703.6,126.1 704.0,122.1 704.4,118.2 704.9,114.5 705.3,110.9 705.8,107.4 706.2,104.1 706.6,101.0 707.1,98.0 707.5,95.2 708.0,92.5 708.4,90.0 708.8,87.8 709.3,85.7 709.7,83.8 710.2,82.1 710.6,80.6 711.0,79.3 711.5,78.2 711.9,77.3 712.4,76.6 712.8,76.2 713.2,75.9 713.7,75.9 714.1,76.0 714.6,76.4 715.0,77.0 715.4,77.9 715.9,78.9 716.3,80.1 716.8,81.5 717.2,83.2 717.6,85.0 718.1,87.0 718.5,89.3 719.0,91.7 719.4,94.3 719.8,97.0 720.3,99.9 720.7,103.0 721.2,106.3 721.6,109.7 722.0,113.3 722.5,117.0 722.9,120.8 723.4,124.7 723.8,128.8 724.2,132.9 724.7,137.2 725.1,141.6 725.6,146.0 726.0,150.5 726.4,155.1 726.9,159.7 727.3,164.4 727.8,169.1 728.2,173.8 728.6,178.5 729.1,183.3 729.5,188.0 730.0,192.8 730.4,197.5 730.8,202.2 731.3,206.8 731.7,211.4 732.2,215.9 732.6,220.4 733.0,224.7 733.5,229.0 733.9,233.2 734.4,237.3 734.8,241.3 735.2,245.2 735.7,248.9 736.1,252.5 736.6,256.0 737.0,259.3 737.4,262.4 737.9,265.4 738.3,268.2 738.8,270.9 739.2,273.4 739.6,275.6 740.1,277.7 740.5,279.6 741.0,281.3 741.4,282.8 741.8,284.1 742.3,285.2 742.7,286.1 743.2,286.8 743.6,287.2 744.0,287.5 744.5,287.5 744.9,287.4 745.4,287.0 745.8,286.4 746.2,285.5 746.7,284.5 747.1,283.3 747.6,281.9 748.0,280.2 748.4,278.4 748.9,276.4 749.3,274.1 749.8,271.7 750.2,269.1 750.6,266.4 751.1,263.5 751.5,260.4 752.0,257.1 752.4,253.7 752.8,250.1 753.3,246.4 753.7,242.6 754.2,238.7 754.6,234.6 755.0,230.5 755.5,226.2 755.9,221.8 756.4,217.4 756.8,212.9 757.2,208.3 757.7,203.7 758.1,199.0 758.6,194.3 759.0,189.6 759.4,184.9 759.9,180.1 760.3,175.4 760.8,170.6 761.2,165.9 761.6,161.2 762.1,156.6 762.5,152.0 763.0,147.5 763.4,143.0 763.8,138.7 764.3,134.4 764.7,130.2 765.2,126.1 765.6,122.1 766.0,118.2 766.5,114.5 766.9,110.9 767.4,107.4 767.8,104.1 768.2,101.0 768.7,98.0 769.1,95.2 769.6,92.5 770.0,90.0" fill="none" stroke="#dcae45" stroke-width="2.5" stroke-linejoin="round"/>
<text transform="translate(462.00,335.80) scale(1,1.05)" text-anchor="middle" font-size="14.6" fill="#2e2e2e">0</text>
<text transform="translate(523.60,335.80) scale(1,1.05)" text-anchor="middle" font-size="14.6" fill="#2e2e2e">0.02</text>
<text transform="translate(585.20,335.80) scale(1,1.05)" text-anchor="middle" font-size="14.6" fill="#2e2e2e">0.04</text>
<text transform="translate(646.80,335.80) scale(1,1.05)" text-anchor="middle" font-size="14.6" fill="#2e2e2e">0.06</text>
<text transform="translate(708.40,335.80) scale(1,1.05)" text-anchor="middle" font-size="14.6" fill="#2e2e2e">0.08</text>
<text transform="translate(770.00,335.80) scale(1,1.05)" text-anchor="middle" font-size="14.6" fill="#2e2e2e">0.1</text>
<text transform="translate(455.10,320.90) scale(1,1.05)" text-anchor="end" font-size="14.6" fill="#2e2e2e"><tspan dy="1.2">−</tspan><tspan dx="-1.5" dy="-1.2">10</tspan></text>
<text transform="translate(455.10,254.75) scale(1,1.05)" text-anchor="end" font-size="14.6" fill="#2e2e2e"><tspan dy="1.2">−</tspan><tspan dx="-1.5" dy="-1.2">5</tspan></text>
<text transform="translate(455.10,188.60) scale(1,1.05)" text-anchor="end" font-size="14.6" fill="#2e2e2e">0</text>
<text transform="translate(455.10,122.45) scale(1,1.05)" text-anchor="end" font-size="14.6" fill="#2e2e2e">5</text>
<text transform="translate(455.10,56.30) scale(1,1.05)" text-anchor="end" font-size="14.6" fill="#2e2e2e">10</text>
<text x="616.50" y="358.20" text-anchor="middle" font-size="17.0" fill="#2e2e2e">Time [s]</text>
<text transform="translate(424.40,182.50) rotate(-90)" text-anchor="middle" font-size="17.0" fill="#2e2e2e">Current [A]</text>
<text x="612.50" y="19.90" text-anchor="middle" font-size="16.7" font-weight="bold" fill="#000">(c) Inverter Output Currents</text>
<text x="616.10" y="41.40" text-anchor="middle" font-size="16.7" font-weight="bold" fill="#000">Unballanced operation</text>
<rect x="687.6" y="62.1" width="69.50" height="80.40" fill="#fff" stroke="#727272" stroke-width="1.9"/>
<path d="M692.80 76.30H738.50" stroke="#1f679b" stroke-width="2.9"/>
<text x="741.20" y="78.60" font-size="13.5" fill="#2e2e2e" stroke="#2e2e2e" stroke-width="0.35">I<tspan dx="0.7" dy="7.1" font-size="10.9" stroke-width="0.15">a</tspan></text>
<path d="M692.80 102.00H738.50" stroke="#bd5a32" stroke-width="2.9"/>
<text x="741.20" y="104.30" font-size="13.5" fill="#2e2e2e" stroke="#2e2e2e" stroke-width="0.35">I<tspan dx="0.7" dy="7.1" font-size="10.9" stroke-width="0.15">b</tspan></text>
<path d="M692.80 127.70H738.50" stroke="#dcae45" stroke-width="2.9"/>
<text x="741.20" y="130.00" font-size="13.5" fill="#2e2e2e" stroke="#2e2e2e" stroke-width="0.35">I<tspan dx="0.7" dy="7.1" font-size="10.9" stroke-width="0.15">c</tspan></text></g>
<g id="axb"><path d="M72.40 416.90V681.80M87.80 416.90V681.80M103.20 416.90V681.80M134.00 416.90V681.80M149.40 416.90V681.80M164.80 416.90V681.80M195.60 416.90V681.80M211.00 416.90V681.80M226.40 416.90V681.80M257.20 416.90V681.80M272.60 416.90V681.80M288.00 416.90V681.80M318.80 416.90V681.80M334.20 416.90V681.80M349.60 416.90V681.80" stroke="#b0b0b0" stroke-width="1.0" stroke-dasharray="1 3.56" stroke-dashoffset="1.01" fill="none"/>
<path d="M57.00 664.14H365.00M57.00 646.48H365.00M57.00 628.82H365.00M57.00 611.16H365.00M57.00 575.84H365.00M57.00 558.18H365.00M57.00 540.52H365.00M57.00 522.86H365.00M57.00 487.54H365.00M57.00 469.88H365.00M57.00 452.22H365.00M57.00 434.56H365.00" stroke="#b0b0b0" stroke-width="1.0" stroke-dasharray="1 3.56" stroke-dashoffset="3.56" fill="none"/>
<path d="M118.60 416.90V681.80M180.20 416.90V681.80M241.80 416.90V681.80M303.40 416.90V681.80" stroke="#e4e4e4" stroke-width="1.3" fill="none"/>
<path d="M57.00 593.50H365.00M57.00 505.20H365.00" stroke="#dadada" stroke-width="1.3" fill="none"/>
<path d="M57.00 681.80v-3.0M57.00 416.90v3.0M118.60 681.80v-3.0M118.60 416.90v3.0M180.20 681.80v-3.0M180.20 416.90v3.0M241.80 681.80v-3.0M241.80 416.90v3.0M303.40 681.80v-3.0M303.40 416.90v3.0M365.00 681.80v-3.0M365.00 416.90v3.0M57.00 681.80h3.0M365.00 681.80h-3.0M57.00 593.50h3.0M365.00 593.50h-3.0M57.00 505.20h3.0M365.00 505.20h-3.0M57.00 416.90h3.0M365.00 416.90h-3.0" stroke="#727272" stroke-width="1.6" fill="none"/>
<rect x="57" y="416.9" width="308" height="264.9" fill="none" stroke="#727272" stroke-width="1.9"/>
<polyline clip-path="url(#cpb)" points="57.0,540.5 365.0,540.5" fill="none" stroke="#1f679b" stroke-width="2.8" stroke-linejoin="round"/>
<text transform="translate(57.00,703.60) scale(1,1.05)" text-anchor="middle" font-size="14.6" fill="#2e2e2e">0</text>
<text transform="translate(118.60,703.60) scale(1,1.05)" text-anchor="middle" font-size="14.6" fill="#2e2e2e">0.02</text>
<text transform="translate(180.20,703.60) scale(1,1.05)" text-anchor="middle" font-size="14.6" fill="#2e2e2e">0.04</text>
<text transform="translate(241.80,703.60) scale(1,1.05)" text-anchor="middle" font-size="14.6" fill="#2e2e2e">0.06</text>
<text transform="translate(303.40,703.60) scale(1,1.05)" text-anchor="middle" font-size="14.6" fill="#2e2e2e">0.08</text>
<text transform="translate(365.00,703.60) scale(1,1.05)" text-anchor="middle" font-size="14.6" fill="#2e2e2e">0.1</text>
<text transform="translate(50.10,688.70) scale(1,1.05)" text-anchor="end" font-size="14.6" fill="#2e2e2e">0</text>
<text transform="translate(50.10,600.40) scale(1,1.05)" text-anchor="end" font-size="14.6" fill="#2e2e2e">5</text>
<text transform="translate(50.10,512.10) scale(1,1.05)" text-anchor="end" font-size="14.6" fill="#2e2e2e">10</text>
<text transform="translate(50.10,423.80) scale(1,1.05)" text-anchor="end" font-size="14.6" fill="#2e2e2e">15</text>
<text x="211.50" y="726.00" text-anchor="middle" font-size="17.0" fill="#2e2e2e">Time [s]</text>
<text transform="translate(25.10,550.15) rotate(-90)" text-anchor="middle" font-size="17.0" fill="#2e2e2e">Current [A]</text>
<text x="207.90" y="408.80" text-anchor="middle" font-size="16.7" font-weight="bold" fill="#000">(b) DC Link Current</text>
<rect x="273.7" y="429.2" width="78.70" height="30.00" fill="#fff" stroke="#727272" stroke-width="1.9"/>
<path d="M278.90 444.60H324.60" stroke="#1f679b" stroke-width="2.9"/>
<text x="327.30" y="446.50" font-size="13.5" fill="#2e2e2e" stroke="#2e2e2e" stroke-width="0.35">I<tspan dx="1.0" dy="7.1" font-size="11.3" stroke-width="0.15">DC</tspan></text></g>
<g id="axd"><path d="M477.40 416.90V681.80M492.80 416.90V681.80M508.20 416.90V681.80M539.00 416.90V681.80M554.40 416.90V681.80M569.80 416.90V681.80M600.60 416.90V681.80M616.00 416.90V681.80M631.40 416.90V681.80M662.20 416.90V681.80M677.60 416.90V681.80M693.00 416.90V681.80M723.80 416.90V681.80M739.20 416.90V681.80M754.60 416.90V681.80" stroke="#b0b0b0" stroke-width="1.0" stroke-dasharray="1 3.56" stroke-dashoffset="1.01" fill="none"/>
<path d="M462.00 670.76H770.00M462.00 659.72H770.00M462.00 648.69H770.00M462.00 626.61H770.00M462.00 615.57H770.00M462.00 604.54H770.00M462.00 582.46H770.00M462.00 571.42H770.00M462.00 560.39H770.00M462.00 538.31H770.00M462.00 527.27H770.00M462.00 516.24H770.00M462.00 494.16H770.00M462.00 483.12H770.00M462.00 472.09H770.00M462.00 450.01H770.00M462.00 438.98H770.00M462.00 427.94H770.00" stroke="#b0b0b0" stroke-width="1.0" stroke-dasharray="1 3.56" stroke-dashoffset="3.56" fill="none"/>
<path d="M523.60 416.90V681.80M585.20 416.90V681.80M646.80 416.90V681.80M708.40 416.90V681.80" stroke="#e4e4e4" stroke-width="1.3" fill="none"/>
<path d="M462.00 637.65H770.00M462.00 593.50H770.00M462.00 549.35H770.00M462.00 505.20H770.00M462.00 461.05H770.00" stroke="#dadada" stroke-width="1.3" fill="none"/>
<path d="M462.00 681.80v-3.0M462.00 416.90v3.0M523.60 681.80v-3.0M523.60 416.90v3.0M585.20 681.80v-3.0M585.20 416.90v3.0M646.80 681.80v-3.0M646.80 416.90v3.0M708.40 681.80v-3.0M708.40 416.90v3.0M770.00 681.80v-3.0M770.00 416.90v3.0M462.00 681.80h3.0M770.00 681.80h-3.0M462.00 637.65h3.0M770.00 637.65h-3.0M462.00 593.50h3.0M770.00 593.50h-3.0M462.00 549.35h3.0M770.00 549.35h-3.0M462.00 505.20h3.0M770.00 505.20h-3.0M462.00 461.05h3.0M770.00 461.05h-3.0M462.00 416.90h3.0M770.00 416.90h-3.0" stroke="#727272" stroke-width="1.6" fill="none"/>
<rect x="462" y="416.9" width="308" height="264.9" fill="none" stroke="#727272" stroke-width="1.9"/>
<polyline clip-path="url(#cpd)" points="462.0,593.5 462.4,602.4 462.9,610.8 463.3,618.5 463.8,625.6 464.2,631.9 464.6,637.5 465.1,642.2 465.5,646.0 466.0,649.0 466.4,651.1 466.8,652.2 467.3,652.3 467.7,651.5 468.2,649.8 468.6,647.1 469.0,643.6 469.5,639.1 469.9,633.8 470.4,627.8 470.8,620.9 471.2,613.4 471.7,605.3 472.1,596.5 472.6,587.3 473.0,577.6 473.4,567.6 473.9,557.4 474.3,546.9 474.8,536.4 475.2,525.8 475.6,515.3 476.1,505.0 476.5,494.9 477.0,485.1 477.4,475.8 477.8,466.9 478.3,458.5 478.7,450.8 479.2,443.7 479.6,437.4 480.0,431.8 480.5,427.1 480.9,423.2 481.4,420.3 481.8,418.2 482.2,417.1 482.7,417.0 483.1,417.7 483.6,419.5 484.0,422.1 484.4,425.7 484.9,430.1 485.3,435.4 485.8,441.5 486.2,448.3 486.6,455.9 487.1,464.0 487.5,472.7 488.0,482.0 488.4,491.6 488.8,501.6 489.3,511.9 489.7,522.3 490.2,532.9 490.6,543.4 491.0,553.9 491.5,564.3 491.9,574.3 492.4,584.1 492.8,593.5 493.2,602.4 493.7,610.8 494.1,618.5 494.6,625.6 495.0,631.9 495.4,637.5 495.9,642.2 496.3,646.0 496.8,649.0 497.2,651.1 497.6,652.2 498.1,652.3 498.5,651.5 499.0,649.8 499.4,647.1 499.8,643.6 500.3,639.1 500.7,633.8 501.2,627.8 501.6,620.9 502.0,613.4 502.5,605.3 502.9,596.5 503.4,587.3 503.8,577.6 504.2,567.6 504.7,557.4 505.1,546.9 505.6,536.4 506.0,525.8 506.4,515.3 506.9,505.0 507.3,494.9 507.8,485.1 508.2,475.8 508.6,466.9 509.1,458.5 509.5,450.8 510.0,443.7 510.4,437.4 510.8,431.8 511.3,427.1 511.7,423.2 512.2,420.3 512.6,418.2 513.0,417.1 513.5,417.0 513.9,417.7 514.4,419.5 514.8,422.1 515.2,425.7 515.7,430.1 516.1,435.4 516.6,441.5 517.0,448.3 517.4,455.9 517.9,464.0 518.3,472.7 518.8,482.0 519.2,491.6 519.6,501.6 520.1,511.9 520.5,522.3 521.0,532.9 521.4,543.4 521.8,553.9 522.3,564.3 522.7,574.3 523.2,584.1 523.6,593.5 524.0,602.4 524.5,610.8 524.9,618.5 525.4,625.6 525.8,631.9 526.2,637.5 526.7,642.2 527.1,646.0 527.6,649.0 528.0,651.1 528.4,652.2 528.9,652.3 529.3,651.5 529.8,649.8 530.2,647.1 530.6,643.6 531.1,639.1 531.5,633.8 532.0,627.8 532.4,620.9 532.8,613.4 533.3,605.3 533.7,596.5 534.2,587.3 534.6,577.6 535.0,567.6 535.5,557.4 535.9,546.9 536.4,536.4 536.8,525.8 537.2,515.3 537.7,505.0 538.1,494.9 538.6,485.1 539.0,475.8 539.4,466.9 539.9,458.5 540.3,450.8 540.8,443.7 541.2,437.4 541.6,431.8 542.1,427.1 542.5,423.2 543.0,420.3 543.4,418.2 543.8,417.1 544.3,417.0 544.7,417.7 545.2,419.5 545.6,422.1 546.0,425.7 546.5,430.1 546.9,435.4 547.4,441.5 547.8,448.3 548.2,455.9 548.7,464.0 549.1,472.7 549.6,482.0 550.0,491.6 550.4,501.6 550.9,511.9 551.3,522.3 551.8,532.9 552.2,543.4 552.6,553.9 553.1,564.3 553.5,574.3 554.0,584.1 554.4,593.5 554.8,602.4 555.3,610.8 555.7,618.5 556.2,625.6 556.6,631.9 557.0,637.5 557.5,642.2 557.9,646.0 558.4,649.0 558.8,651.1 559.2,652.2 559.7,652.3 560.1,651.5 560.6,649.8 561.0,647.1 561.4,643.6 561.9,639.1 562.3,633.8 562.8,627.8 563.2,620.9 563.6,613.4 564.1,605.3 564.5,596.5 565.0,587.3 565.4,577.6 565.8,567.6 566.3,557.4 566.7,546.9 567.2,536.4 567.6,525.8 568.0,515.3 568.5,505.0 568.9,494.9 569.4,485.1 569.8,475.8 570.2,466.9 570.7,458.5 571.1,450.8 571.6,443.7 572.0,437.4 572.4,431.8 572.9,427.1 573.3,423.2 573.8,420.3 574.2,418.2 574.6,417.1 575.1,417.0 575.5,417.7 576.0,419.5 576.4,422.1 576.8,425.7 577.3,430.1 577.7,435.4 578.2,441.5 578.6,448.3 579.0,455.9 579.5,464.0 579.9,472.7 580.4,482.0 580.8,491.6 581.2,501.6 581.7,511.9 582.1,522.3 582.6,532.9 583.0,543.4 583.4,553.9 583.9,564.3 584.3,574.3 584.8,584.1 585.2,593.5 585.6,602.4 586.1,610.8 586.5,618.5 587.0,625.6 587.4,631.9 587.8,637.5 588.3,642.2 588.7,646.0 589.2,649.0 589.6,651.1 590.0,652.2 590.5,652.3 590.9,651.5 591.4,649.8 591.8,647.1 592.2,643.6 592.7,639.1 593.1,633.8 593.6,627.8 594.0,620.9 594.4,613.4 594.9,605.3 595.3,596.5 595.8,587.3 596.2,577.6 596.6,567.6 597.1,557.4 597.5,546.9 598.0,536.4 598.4,525.8 598.8,515.3 599.3,505.0 599.7,494.9 600.2,485.1 600.6,475.8 601.0,466.9 601.5,458.5 601.9,450.8 602.4,443.7 602.8,437.4 603.2,431.8 603.7,427.1 604.1,423.2 604.6,420.3 605.0,418.2 605.4,417.1 605.9,417.0 606.3,417.7 606.8,419.5 607.2,422.1 607.6,425.7 608.1,430.1 608.5,435.4 609.0,441.5 609.4,448.3 609.8,455.9 610.3,464.0 610.7,472.7 611.2,482.0 611.6,491.6 612.0,501.6 612.5,511.9 612.9,522.3 613.4,532.9 613.8,543.4 614.2,553.9 614.7,564.3 615.1,574.3 615.6,584.1 616.0,593.5 616.4,602.4 616.9,610.8 617.3,618.5 617.8,625.6 618.2,631.9 618.6,637.5 619.1,642.2 619.5,646.0 620.0,649.0 620.4,651.1 620.8,652.2 621.3,652.3 621.7,651.5 622.2,649.8 622.6,647.1 623.0,643.6 623.5,639.1 623.9,633.8 624.4,627.8 624.8,620.9 625.2,613.4 625.7,605.3 626.1,596.5 626.6,587.3 627.0,577.6 627.4,567.6 627.9,557.4 628.3,546.9 628.8,536.4 629.2,525.8 629.6,515.3 630.1,505.0 630.5,494.9 631.0,485.1 631.4,475.8 631.8,466.9 632.3,458.5 632.7,450.8 633.2,443.7 633.6,437.4 634.0,431.8 634.5,427.1 634.9,423.2 635.4,420.3 635.8,418.2 636.2,417.1 636.7,417.0 637.1,417.7 637.6,419.5 638.0,422.1 638.4,425.7 638.9,430.1 639.3,435.4 639.8,441.5 640.2,448.3 640.6,455.9 641.1,464.0 641.5,472.7 642.0,482.0 642.4,491.6 642.8,501.6 643.3,511.9 643.7,522.3 644.2,532.9 644.6,543.4 645.0,553.9 645.5,564.3 645.9,574.3 646.4,584.1 646.8,593.5 647.2,602.4 647.7,610.8 648.1,618.5 648.6,625.6 649.0,631.9 649.4,637.5 649.9,642.2 650.3,646.0 650.8,649.0 651.2,651.1 651.6,652.2 652.1,652.3 652.5,651.5 653.0,649.8 653.4,647.1 653.8,643.6 654.3,639.1 654.7,633.8 655.2,627.8 655.6,620.9 656.0,613.4 656.5,605.3 656.9,596.5 657.4,587.3 657.8,577.6 658.2,567.6 658.7,557.4 659.1,546.9 659.6,536.4 660.0,525.8 660.4,515.3 660.9,505.0 661.3,494.9 661.8,485.1 662.2,475.8 662.6,466.9 663.1,458.5 663.5,450.8 664.0,443.7 664.4,437.4 664.8,431.8 665.3,427.1 665.7,423.2 666.2,420.3 666.6,418.2 667.0,417.1 667.5,417.0 667.9,417.7 668.4,419.5 668.8,422.1 669.2,425.7 669.7,430.1 670.1,435.4 670.6,441.5 671.0,448.3 671.4,455.9 671.9,464.0 672.3,472.7 672.8,482.0 673.2,491.6 673.6,501.6 674.1,511.9 674.5,522.3 675.0,532.9 675.4,543.4 675.8,553.9 676.3,564.3 676.7,574.3 677.2,584.1 677.6,593.5 678.0,602.4 678.5,610.8 678.9,618.5 679.4,625.6 679.8,631.9 680.2,637.5 680.7,642.2 681.1,646.0 681.6,649.0 682.0,651.1 682.4,652.2 682.9,652.3 683.3,651.5 683.8,649.8 684.2,647.1 684.6,643.6 685.1,639.1 685.5,633.8 686.0,627.8 686.4,620.9 686.8,613.4 687.3,605.3 687.7,596.5 688.2,587.3 688.6,577.6 689.0,567.6 689.5,557.4 689.9,546.9 690.4,536.4 690.8,525.8 691.2,515.3 691.7,505.0 692.1,494.9 692.6,485.1 693.0,475.8 693.4,466.9 693.9,458.5 694.3,450.8 694.8,443.7 695.2,437.4 695.6,431.8 696.1,427.1 696.5,423.2 697.0,420.3 697.4,418.2 697.8,417.1 698.3,417.0 698.7,417.7 699.2,419.5 699.6,422.1 700.0,425.7 700.5,430.1 700.9,435.4 701.4,441.5 701.8,448.3 702.2,455.9 702.7,464.0 703.1,472.7 703.6,482.0 704.0,491.6 704.4,501.6 704.9,511.9 705.3,522.3 705.8,532.9 706.2,543.4 706.6,553.9 707.1,564.3 707.5,574.3 708.0,584.1 708.4,593.5 708.8,602.4 709.3,610.8 709.7,618.5 710.2,625.6 710.6,631.9 711.0,637.5 711.5,642.2 711.9,646.0 712.4,649.0 712.8,651.1 713.2,652.2 713.7,652.3 714.1,651.5 714.6,649.8 715.0,647.1 715.4,643.6 715.9,639.1 716.3,633.8 716.8,627.8 717.2,620.9 717.6,613.4 718.1,605.3 718.5,596.5 719.0,587.3 719.4,577.6 719.8,567.6 720.3,557.4 720.7,546.9 721.2,536.4 721.6,525.8 722.0,515.3 722.5,505.0 722.9,494.9 723.4,485.1 723.8,475.8 724.2,466.9 724.7,458.5 725.1,450.8 725.6,443.7 726.0,437.4 726.4,431.8 726.9,427.1 727.3,423.2 727.8,420.3 728.2,418.2 728.6,417.1 729.1,417.0 729.5,417.7 730.0,419.5 730.4,422.1 730.8,425.7 731.3,430.1 731.7,435.4 732.2,441.5 732.6,448.3 733.0,455.9 733.5,464.0 733.9,472.7 734.4,482.0 734.8,491.6 735.2,501.6 735.7,511.9 736.1,522.3 736.6,532.9 737.0,543.4 737.4,553.9 737.9,564.3 738.3,574.3 738.8,584.1 739.2,593.5 739.6,602.4 740.1,610.8 740.5,618.5 741.0,625.6 741.4,631.9 741.8,637.5 742.3,642.2 742.7,646.0 743.2,649.0 743.6,651.1 744.0,652.2 744.5,652.3 744.9,651.5 745.4,649.8 745.8,647.1 746.2,643.6 746.7,639.1 747.1,633.8 747.6,627.8 748.0,620.9 748.4,613.4 748.9,605.3 749.3,596.5 749.8,587.3 750.2,577.6 750.6,567.6 751.1,557.4 751.5,546.9 752.0,536.4 752.4,525.8 752.8,515.3 753.3,505.0 753.7,494.9 754.2,485.1 754.6,475.8 755.0,466.9 755.5,458.5 755.9,450.8 756.4,443.7 756.8,437.4 757.2,431.8 757.7,427.1 758.1,423.2 758.6,420.3 759.0,418.2 759.4,417.1 759.9,417.0 760.3,417.7 760.8,419.5 761.2,422.1 761.6,425.7 762.1,430.1 762.5,435.4 763.0,441.5 763.4,448.3 763.8,455.9 764.3,464.0 764.7,472.7 765.2,482.0 765.6,491.6 766.0,501.6 766.5,511.9 766.9,522.3 767.4,532.9 767.8,543.4 768.2,553.9 768.7,564.3 769.1,574.3 769.6,584.1 770.0,593.5" fill="none" stroke="#1f679b" stroke-width="3.0" stroke-linejoin="round"/>
<text transform="translate(462.00,703.60) scale(1,1.05)" text-anchor="middle" font-size="14.6" fill="#2e2e2e">0</text>
<text transform="translate(523.60,703.60) scale(1,1.05)" text-anchor="middle" font-size="14.6" fill="#2e2e2e">0.02</text>
<text transform="translate(585.20,703.60) scale(1,1.05)" text-anchor="middle" font-size="14.6" fill="#2e2e2e">0.04</text>
<text transform="translate(646.80,703.60) scale(1,1.05)" text-anchor="middle" font-size="14.6" fill="#2e2e2e">0.06</text>
<text transform="translate(708.40,703.60) scale(1,1.05)" text-anchor="middle" font-size="14.6" fill="#2e2e2e">0.08</text>
<text transform="translate(770.00,703.60) scale(1,1.05)" text-anchor="middle" font-size="14.6" fill="#2e2e2e">0.1</text>
<text transform="translate(455.10,688.70) scale(1,1.05)" text-anchor="end" font-size="14.6" fill="#2e2e2e"><tspan dy="1.2">−</tspan><tspan dx="-1.5" dy="-1.2">4</tspan></text>
<text transform="translate(455.10,644.55) scale(1,1.05)" text-anchor="end" font-size="14.6" fill="#2e2e2e"><tspan dy="1.2">−</tspan><tspan dx="-1.5" dy="-1.2">2</tspan></text>
<text transform="translate(455.10,600.40) scale(1,1.05)" text-anchor="end" font-size="14.6" fill="#2e2e2e">0</text>
<text transform="translate(455.10,556.25) scale(1,1.05)" text-anchor="end" font-size="14.6" fill="#2e2e2e">2</text>
<text transform="translate(455.10,512.10) scale(1,1.05)" text-anchor="end" font-size="14.6" fill="#2e2e2e">4</text>
<text transform="translate(455.10,467.95) scale(1,1.05)" text-anchor="end" font-size="14.6" fill="#2e2e2e">6</text>
<text transform="translate(455.10,423.80) scale(1,1.05)" text-anchor="end" font-size="14.6" fill="#2e2e2e">8</text>
<text x="616.50" y="726.00" text-anchor="middle" font-size="17.0" fill="#2e2e2e">Time [s]</text>
<text transform="translate(433.20,550.15) rotate(-90)" text-anchor="middle" font-size="17.0" fill="#2e2e2e">Current [A]</text>
<text x="612.90" y="408.80" text-anchor="middle" font-size="16.7" font-weight="bold" fill="#000">(d) DC Link Current</text>
<rect x="678.4" y="429.2" width="78.70" height="30.00" fill="#fff" stroke="#727272" stroke-width="1.9"/>
<path d="M683.60 444.60H729.30" stroke="#1f679b" stroke-width="2.9"/>
<text x="732.00" y="446.50" font-size="13.5" fill="#2e2e2e" stroke="#2e2e2e" stroke-width="0.35">I<tspan dx="1.0" dy="7.1" font-size="11.3" stroke-width="0.15">DC</tspan></text></g>
</g>
</svg>
</body></html>
